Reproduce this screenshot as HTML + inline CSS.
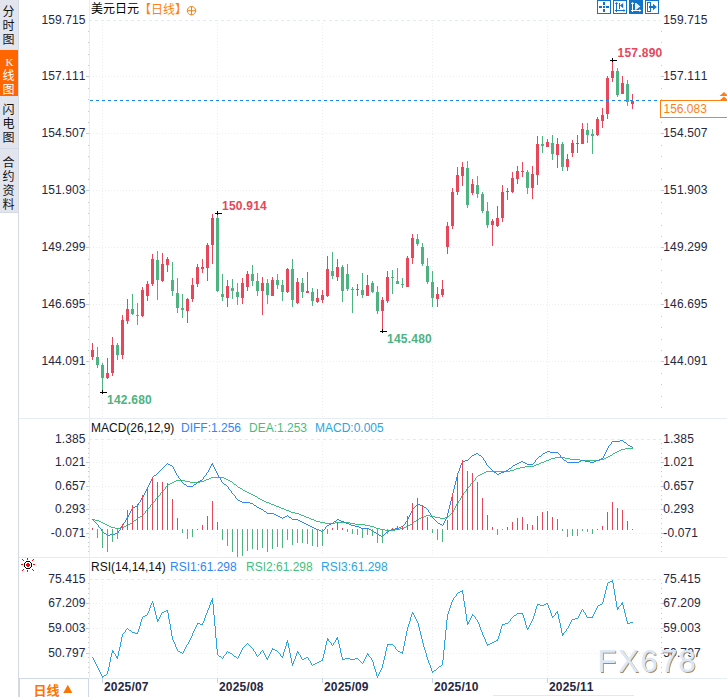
<!DOCTYPE html>
<html><head><meta charset="utf-8"><title>USDJPY</title>
<style>html,body{margin:0;padding:0;background:#fff;overflow:hidden}body{width:727px;height:697px;font-family:"Liberation Sans",sans-serif}</style>
</head><body>
<svg width="727" height="697" viewBox="0 0 727 697" style="display:block;font-family:'Liberation Sans',sans-serif;font-kerning:none">
<defs><filter id="wb" x="-5%" y="-10%" width="110%" height="130%"><feGaussianBlur stdDeviation="0.45"/></filter></defs>
<rect width="727" height="697" fill="#fff"/>
<g shape-rendering="crispEdges">
<rect x="0" y="0" width="18" height="212" fill="#e3e5ee"/>
<rect x="0" y="50" width="18" height="46" fill="#ff6600"/>
<rect x="0" y="148" width="18" height="1" fill="#d3dbe6"/>
<rect x="0" y="49" width="18" height="1" fill="#dde1ea"/>
<rect x="0" y="96" width="18" height="1" fill="#dde1ea"/>
<rect x="0" y="212" width="18" height="1" fill="#d5d9e4"/>
<rect x="18" y="0" width="1" height="697" fill="#d3d9e6"/>
<rect x="19" y="418" width="708" height="1" fill="#e6ecf4"/>
<rect x="19" y="557" width="708" height="1" fill="#e6ecf4"/>
<rect x="19" y="678" width="708" height="1" fill="#e6ecf4"/>
<rect x="89" y="0" width="1" height="678" fill="#e8edf4"/>
<rect x="19" y="678" width="70" height="19" fill="#fff"/>
<rect x="19" y="678" width="70" height="1" fill="#cfd8e8"/>
<rect x="19" y="678" width="1" height="19" fill="#cfd8e8"/>
<rect x="88" y="678" width="1" height="19" fill="#cfd8e8"/>
</g>
<line x1="89" y1="20.5" x2="661" y2="20.5" stroke="#e4eaf1" stroke-width="1" stroke-dasharray="3 3" shape-rendering="crispEdges"/>
<line x1="90" y1="76.5" x2="661" y2="76.5" stroke="#eaeef3" stroke-width="1" stroke-dasharray="1 2" shape-rendering="crispEdges"/>
<line x1="90" y1="133.5" x2="661" y2="133.5" stroke="#eaeef3" stroke-width="1" stroke-dasharray="1 2" shape-rendering="crispEdges"/>
<line x1="90" y1="190.5" x2="661" y2="190.5" stroke="#eaeef3" stroke-width="1" stroke-dasharray="1 2" shape-rendering="crispEdges"/>
<line x1="90" y1="247.5" x2="661" y2="247.5" stroke="#eaeef3" stroke-width="1" stroke-dasharray="1 2" shape-rendering="crispEdges"/>
<line x1="90" y1="304.5" x2="661" y2="304.5" stroke="#eaeef3" stroke-width="1" stroke-dasharray="1 2" shape-rendering="crispEdges"/>
<line x1="90" y1="361.5" x2="661" y2="361.5" stroke="#eaeef3" stroke-width="1" stroke-dasharray="1 2" shape-rendering="crispEdges"/>
<line x1="102.5" y1="23" x2="102.5" y2="417" stroke="#eaeef3" stroke-width="1" stroke-dasharray="1 2" shape-rendering="crispEdges"/>
<line x1="102.5" y1="442" x2="102.5" y2="556" stroke="#eaeef3" stroke-width="1" stroke-dasharray="1 2" shape-rendering="crispEdges"/>
<line x1="102.5" y1="582" x2="102.5" y2="677" stroke="#eaeef3" stroke-width="1" stroke-dasharray="1 2" shape-rendering="crispEdges"/>
<line x1="217.5" y1="23" x2="217.5" y2="417" stroke="#eaeef3" stroke-width="1" stroke-dasharray="1 2" shape-rendering="crispEdges"/>
<line x1="217.5" y1="442" x2="217.5" y2="556" stroke="#eaeef3" stroke-width="1" stroke-dasharray="1 2" shape-rendering="crispEdges"/>
<line x1="217.5" y1="582" x2="217.5" y2="677" stroke="#eaeef3" stroke-width="1" stroke-dasharray="1 2" shape-rendering="crispEdges"/>
<line x1="322.5" y1="23" x2="322.5" y2="417" stroke="#eaeef3" stroke-width="1" stroke-dasharray="1 2" shape-rendering="crispEdges"/>
<line x1="322.5" y1="442" x2="322.5" y2="556" stroke="#eaeef3" stroke-width="1" stroke-dasharray="1 2" shape-rendering="crispEdges"/>
<line x1="322.5" y1="582" x2="322.5" y2="677" stroke="#eaeef3" stroke-width="1" stroke-dasharray="1 2" shape-rendering="crispEdges"/>
<line x1="432.5" y1="23" x2="432.5" y2="417" stroke="#eaeef3" stroke-width="1" stroke-dasharray="1 2" shape-rendering="crispEdges"/>
<line x1="432.5" y1="442" x2="432.5" y2="556" stroke="#eaeef3" stroke-width="1" stroke-dasharray="1 2" shape-rendering="crispEdges"/>
<line x1="432.5" y1="582" x2="432.5" y2="677" stroke="#eaeef3" stroke-width="1" stroke-dasharray="1 2" shape-rendering="crispEdges"/>
<line x1="547.5" y1="23" x2="547.5" y2="417" stroke="#eaeef3" stroke-width="1" stroke-dasharray="1 2" shape-rendering="crispEdges"/>
<line x1="547.5" y1="442" x2="547.5" y2="556" stroke="#eaeef3" stroke-width="1" stroke-dasharray="1 2" shape-rendering="crispEdges"/>
<line x1="547.5" y1="582" x2="547.5" y2="677" stroke="#eaeef3" stroke-width="1" stroke-dasharray="1 2" shape-rendering="crispEdges"/>
<g shape-rendering="crispEdges">
<rect x="86" y="76" width="3" height="1" fill="#c2c9d5"/>
<rect x="661" y="76" width="3" height="1" fill="#c2c9d5"/>
<rect x="86" y="133" width="3" height="1" fill="#c2c9d5"/>
<rect x="661" y="133" width="3" height="1" fill="#c2c9d5"/>
<rect x="86" y="190" width="3" height="1" fill="#c2c9d5"/>
<rect x="661" y="190" width="3" height="1" fill="#c2c9d5"/>
<rect x="86" y="247" width="3" height="1" fill="#c2c9d5"/>
<rect x="661" y="247" width="3" height="1" fill="#c2c9d5"/>
<rect x="86" y="304" width="3" height="1" fill="#c2c9d5"/>
<rect x="661" y="304" width="3" height="1" fill="#c2c9d5"/>
<rect x="86" y="361" width="3" height="1" fill="#c2c9d5"/>
<rect x="661" y="361" width="3" height="1" fill="#c2c9d5"/>
<rect x="88" y="31" width="1" height="1" fill="#c2c9d5"/>
<rect x="661" y="31" width="1" height="1" fill="#c2c9d5"/>
<rect x="88" y="42" width="1" height="1" fill="#c2c9d5"/>
<rect x="661" y="42" width="1" height="1" fill="#c2c9d5"/>
<rect x="88" y="54" width="1" height="1" fill="#c2c9d5"/>
<rect x="661" y="54" width="1" height="1" fill="#c2c9d5"/>
<rect x="88" y="65" width="1" height="1" fill="#c2c9d5"/>
<rect x="661" y="65" width="1" height="1" fill="#c2c9d5"/>
<rect x="88" y="88" width="1" height="1" fill="#c2c9d5"/>
<rect x="661" y="88" width="1" height="1" fill="#c2c9d5"/>
<rect x="88" y="99" width="1" height="1" fill="#c2c9d5"/>
<rect x="661" y="99" width="1" height="1" fill="#c2c9d5"/>
<rect x="88" y="111" width="1" height="1" fill="#c2c9d5"/>
<rect x="661" y="111" width="1" height="1" fill="#c2c9d5"/>
<rect x="88" y="122" width="1" height="1" fill="#c2c9d5"/>
<rect x="661" y="122" width="1" height="1" fill="#c2c9d5"/>
<rect x="88" y="145" width="1" height="1" fill="#c2c9d5"/>
<rect x="661" y="145" width="1" height="1" fill="#c2c9d5"/>
<rect x="88" y="156" width="1" height="1" fill="#c2c9d5"/>
<rect x="661" y="156" width="1" height="1" fill="#c2c9d5"/>
<rect x="88" y="168" width="1" height="1" fill="#c2c9d5"/>
<rect x="661" y="168" width="1" height="1" fill="#c2c9d5"/>
<rect x="88" y="179" width="1" height="1" fill="#c2c9d5"/>
<rect x="661" y="179" width="1" height="1" fill="#c2c9d5"/>
<rect x="88" y="202" width="1" height="1" fill="#c2c9d5"/>
<rect x="661" y="202" width="1" height="1" fill="#c2c9d5"/>
<rect x="88" y="213" width="1" height="1" fill="#c2c9d5"/>
<rect x="661" y="213" width="1" height="1" fill="#c2c9d5"/>
<rect x="88" y="225" width="1" height="1" fill="#c2c9d5"/>
<rect x="661" y="225" width="1" height="1" fill="#c2c9d5"/>
<rect x="88" y="236" width="1" height="1" fill="#c2c9d5"/>
<rect x="661" y="236" width="1" height="1" fill="#c2c9d5"/>
<rect x="88" y="259" width="1" height="1" fill="#c2c9d5"/>
<rect x="661" y="259" width="1" height="1" fill="#c2c9d5"/>
<rect x="88" y="270" width="1" height="1" fill="#c2c9d5"/>
<rect x="661" y="270" width="1" height="1" fill="#c2c9d5"/>
<rect x="88" y="282" width="1" height="1" fill="#c2c9d5"/>
<rect x="661" y="282" width="1" height="1" fill="#c2c9d5"/>
<rect x="88" y="293" width="1" height="1" fill="#c2c9d5"/>
<rect x="661" y="293" width="1" height="1" fill="#c2c9d5"/>
<rect x="88" y="316" width="1" height="1" fill="#c2c9d5"/>
<rect x="661" y="316" width="1" height="1" fill="#c2c9d5"/>
<rect x="88" y="327" width="1" height="1" fill="#c2c9d5"/>
<rect x="661" y="327" width="1" height="1" fill="#c2c9d5"/>
<rect x="88" y="339" width="1" height="1" fill="#c2c9d5"/>
<rect x="661" y="339" width="1" height="1" fill="#c2c9d5"/>
<rect x="88" y="350" width="1" height="1" fill="#c2c9d5"/>
<rect x="661" y="350" width="1" height="1" fill="#c2c9d5"/>
<rect x="88" y="373" width="1" height="1" fill="#c2c9d5"/>
<rect x="661" y="373" width="1" height="1" fill="#c2c9d5"/>
<rect x="88" y="384" width="1" height="1" fill="#c2c9d5"/>
<rect x="661" y="384" width="1" height="1" fill="#c2c9d5"/>
<rect x="88" y="396" width="1" height="1" fill="#c2c9d5"/>
<rect x="661" y="396" width="1" height="1" fill="#c2c9d5"/>
<rect x="88" y="407" width="1" height="1" fill="#c2c9d5"/>
<rect x="661" y="407" width="1" height="1" fill="#c2c9d5"/>
</g>
<g font-size="12" fill="#252842" letter-spacing="0.12">
<text x="85.6" y="24" text-anchor="end">159.715</text>
<text x="663.3" y="24">159.715</text>
<text x="85.6" y="80" text-anchor="end">157.111</text>
<text x="663.3" y="80">157.111</text>
<text x="85.6" y="137" text-anchor="end">154.507</text>
<text x="663.3" y="137">154.507</text>
<text x="85.6" y="194" text-anchor="end">151.903</text>
<text x="663.3" y="194">151.903</text>
<text x="85.6" y="251" text-anchor="end">149.299</text>
<text x="663.3" y="251">149.299</text>
<text x="85.6" y="308" text-anchor="end">146.695</text>
<text x="663.3" y="308">146.695</text>
<text x="85.6" y="365" text-anchor="end">144.091</text>
<text x="663.3" y="365">144.091</text>
</g>
<line x1="89" y1="439.5" x2="661" y2="439.5" stroke="#e4eaf1" stroke-width="1" stroke-dasharray="3 3" shape-rendering="crispEdges"/>
<line x1="90" y1="462.5" x2="661" y2="462.5" stroke="#eaeef3" stroke-width="1" stroke-dasharray="1 2" shape-rendering="crispEdges"/>
<line x1="90" y1="486.5" x2="661" y2="486.5" stroke="#eaeef3" stroke-width="1" stroke-dasharray="1 2" shape-rendering="crispEdges"/>
<line x1="90" y1="509.5" x2="661" y2="509.5" stroke="#eaeef3" stroke-width="1" stroke-dasharray="1 2" shape-rendering="crispEdges"/>
<line x1="90" y1="533.5" x2="661" y2="533.5" stroke="#eaeef3" stroke-width="1" stroke-dasharray="1 2" shape-rendering="crispEdges"/>
<g shape-rendering="crispEdges">
<rect x="86" y="462" width="3" height="1" fill="#c2c9d5"/>
<rect x="661" y="462" width="3" height="1" fill="#c2c9d5"/>
<rect x="86" y="486" width="3" height="1" fill="#c2c9d5"/>
<rect x="661" y="486" width="3" height="1" fill="#c2c9d5"/>
<rect x="86" y="509" width="3" height="1" fill="#c2c9d5"/>
<rect x="661" y="509" width="3" height="1" fill="#c2c9d5"/>
<rect x="86" y="533" width="3" height="1" fill="#c2c9d5"/>
<rect x="661" y="533" width="3" height="1" fill="#c2c9d5"/>
<rect x="88" y="443" width="1" height="1" fill="#c2c9d5"/>
<rect x="661" y="443" width="1" height="1" fill="#c2c9d5"/>
<rect x="88" y="448" width="1" height="1" fill="#c2c9d5"/>
<rect x="661" y="448" width="1" height="1" fill="#c2c9d5"/>
<rect x="88" y="453" width="1" height="1" fill="#c2c9d5"/>
<rect x="661" y="453" width="1" height="1" fill="#c2c9d5"/>
<rect x="88" y="457" width="1" height="1" fill="#c2c9d5"/>
<rect x="661" y="457" width="1" height="1" fill="#c2c9d5"/>
<rect x="88" y="467" width="1" height="1" fill="#c2c9d5"/>
<rect x="661" y="467" width="1" height="1" fill="#c2c9d5"/>
<rect x="88" y="471" width="1" height="1" fill="#c2c9d5"/>
<rect x="661" y="471" width="1" height="1" fill="#c2c9d5"/>
<rect x="88" y="476" width="1" height="1" fill="#c2c9d5"/>
<rect x="661" y="476" width="1" height="1" fill="#c2c9d5"/>
<rect x="88" y="481" width="1" height="1" fill="#c2c9d5"/>
<rect x="661" y="481" width="1" height="1" fill="#c2c9d5"/>
<rect x="88" y="490" width="1" height="1" fill="#c2c9d5"/>
<rect x="661" y="490" width="1" height="1" fill="#c2c9d5"/>
<rect x="88" y="495" width="1" height="1" fill="#c2c9d5"/>
<rect x="661" y="495" width="1" height="1" fill="#c2c9d5"/>
<rect x="88" y="499" width="1" height="1" fill="#c2c9d5"/>
<rect x="661" y="499" width="1" height="1" fill="#c2c9d5"/>
<rect x="88" y="504" width="1" height="1" fill="#c2c9d5"/>
<rect x="661" y="504" width="1" height="1" fill="#c2c9d5"/>
<rect x="88" y="514" width="1" height="1" fill="#c2c9d5"/>
<rect x="661" y="514" width="1" height="1" fill="#c2c9d5"/>
<rect x="88" y="518" width="1" height="1" fill="#c2c9d5"/>
<rect x="661" y="518" width="1" height="1" fill="#c2c9d5"/>
<rect x="88" y="523" width="1" height="1" fill="#c2c9d5"/>
<rect x="661" y="523" width="1" height="1" fill="#c2c9d5"/>
<rect x="88" y="528" width="1" height="1" fill="#c2c9d5"/>
<rect x="661" y="528" width="1" height="1" fill="#c2c9d5"/>
<rect x="88" y="537" width="1" height="1" fill="#c2c9d5"/>
<rect x="661" y="537" width="1" height="1" fill="#c2c9d5"/>
<rect x="88" y="542" width="1" height="1" fill="#c2c9d5"/>
<rect x="661" y="542" width="1" height="1" fill="#c2c9d5"/>
<rect x="88" y="546" width="1" height="1" fill="#c2c9d5"/>
<rect x="661" y="546" width="1" height="1" fill="#c2c9d5"/>
<rect x="88" y="551" width="1" height="1" fill="#c2c9d5"/>
<rect x="661" y="551" width="1" height="1" fill="#c2c9d5"/>
</g>
<g font-size="12" fill="#252842" letter-spacing="0.12">
<text x="85.6" y="443" text-anchor="end">1.385</text>
<text x="663.3" y="443">1.385</text>
<text x="85.6" y="466" text-anchor="end">1.021</text>
<text x="663.3" y="466">1.021</text>
<text x="85.6" y="490" text-anchor="end">0.657</text>
<text x="663.3" y="490">0.657</text>
<text x="85.6" y="513" text-anchor="end">0.293</text>
<text x="663.3" y="513">0.293</text>
<text x="85.6" y="537" text-anchor="end">-0.071</text>
<text x="663.3" y="537">-0.071</text>
</g>
<line x1="89" y1="579.5" x2="661" y2="579.5" stroke="#e4eaf1" stroke-width="1" stroke-dasharray="3 3" shape-rendering="crispEdges"/>
<line x1="90" y1="603.5" x2="661" y2="603.5" stroke="#eaeef3" stroke-width="1" stroke-dasharray="1 2" shape-rendering="crispEdges"/>
<line x1="90" y1="628.5" x2="661" y2="628.5" stroke="#eaeef3" stroke-width="1" stroke-dasharray="1 2" shape-rendering="crispEdges"/>
<line x1="90" y1="653.5" x2="661" y2="653.5" stroke="#eaeef3" stroke-width="1" stroke-dasharray="1 2" shape-rendering="crispEdges"/>
<g shape-rendering="crispEdges">
<rect x="86" y="603" width="3" height="1" fill="#c2c9d5"/>
<rect x="661" y="603" width="3" height="1" fill="#c2c9d5"/>
<rect x="86" y="628" width="3" height="1" fill="#c2c9d5"/>
<rect x="661" y="628" width="3" height="1" fill="#c2c9d5"/>
<rect x="86" y="653" width="3" height="1" fill="#c2c9d5"/>
<rect x="661" y="653" width="3" height="1" fill="#c2c9d5"/>
<rect x="88" y="583" width="1" height="1" fill="#c2c9d5"/>
<rect x="661" y="583" width="1" height="1" fill="#c2c9d5"/>
<rect x="88" y="588" width="1" height="1" fill="#c2c9d5"/>
<rect x="661" y="588" width="1" height="1" fill="#c2c9d5"/>
<rect x="88" y="593" width="1" height="1" fill="#c2c9d5"/>
<rect x="661" y="593" width="1" height="1" fill="#c2c9d5"/>
<rect x="88" y="598" width="1" height="1" fill="#c2c9d5"/>
<rect x="661" y="598" width="1" height="1" fill="#c2c9d5"/>
<rect x="88" y="608" width="1" height="1" fill="#c2c9d5"/>
<rect x="661" y="608" width="1" height="1" fill="#c2c9d5"/>
<rect x="88" y="613" width="1" height="1" fill="#c2c9d5"/>
<rect x="661" y="613" width="1" height="1" fill="#c2c9d5"/>
<rect x="88" y="618" width="1" height="1" fill="#c2c9d5"/>
<rect x="661" y="618" width="1" height="1" fill="#c2c9d5"/>
<rect x="88" y="623" width="1" height="1" fill="#c2c9d5"/>
<rect x="661" y="623" width="1" height="1" fill="#c2c9d5"/>
<rect x="88" y="632" width="1" height="1" fill="#c2c9d5"/>
<rect x="661" y="632" width="1" height="1" fill="#c2c9d5"/>
<rect x="88" y="637" width="1" height="1" fill="#c2c9d5"/>
<rect x="661" y="637" width="1" height="1" fill="#c2c9d5"/>
<rect x="88" y="642" width="1" height="1" fill="#c2c9d5"/>
<rect x="661" y="642" width="1" height="1" fill="#c2c9d5"/>
<rect x="88" y="647" width="1" height="1" fill="#c2c9d5"/>
<rect x="661" y="647" width="1" height="1" fill="#c2c9d5"/>
<rect x="88" y="657" width="1" height="1" fill="#c2c9d5"/>
<rect x="661" y="657" width="1" height="1" fill="#c2c9d5"/>
<rect x="88" y="662" width="1" height="1" fill="#c2c9d5"/>
<rect x="661" y="662" width="1" height="1" fill="#c2c9d5"/>
<rect x="88" y="667" width="1" height="1" fill="#c2c9d5"/>
<rect x="661" y="667" width="1" height="1" fill="#c2c9d5"/>
<rect x="88" y="672" width="1" height="1" fill="#c2c9d5"/>
<rect x="661" y="672" width="1" height="1" fill="#c2c9d5"/>
</g>
<g font-size="12" fill="#252842" letter-spacing="0.12">
<text x="85.6" y="583" text-anchor="end">75.415</text>
<text x="663.3" y="583">75.415</text>
<text x="85.6" y="607" text-anchor="end">67.209</text>
<text x="663.3" y="607">67.209</text>
<text x="85.6" y="632" text-anchor="end">59.003</text>
<text x="663.3" y="632">59.003</text>
<text x="85.6" y="657" text-anchor="end">50.797</text>
<text x="663.3" y="657">50.797</text>
</g>
<g shape-rendering="crispEdges">
<rect x="102" y="678" width="1" height="5" fill="#c9d2e0"/>
<rect x="217" y="678" width="1" height="5" fill="#c9d2e0"/>
<rect x="322" y="678" width="1" height="5" fill="#c9d2e0"/>
<rect x="432" y="678" width="1" height="5" fill="#c9d2e0"/>
<rect x="547" y="678" width="1" height="5" fill="#c9d2e0"/>
</g>
<g font-size="12" font-weight="bold" fill="#252842" letter-spacing="0.18">
<text x="104" y="691">2025/07</text>
<text x="219" y="691">2025/08</text>
<text x="324" y="691">2025/09</text>
<text x="434" y="691">2025/10</text>
<text x="549" y="691">2025/11</text>
</g>
<rect x="493" y="695" width="141" height="1" fill="#e3e8f0" shape-rendering="crispEdges"/>
<g shape-rendering="crispEdges">
<rect x="92" y="343" width="1" height="17" fill="#e8465a"/>
<rect x="91" y="350" width="3" height="7" fill="#e8465a"/>
<rect x="97" y="347" width="1" height="21" fill="#4db381"/>
<rect x="96" y="357" width="3" height="8" fill="#4db381"/>
<rect x="102" y="363" width="1" height="29" fill="#4db381"/>
<rect x="101" y="365" width="3" height="13" fill="#4db381"/>
<rect x="107" y="358" width="1" height="21" fill="#e8465a"/>
<rect x="106" y="373" width="3" height="5" fill="#e8465a"/>
<rect x="112" y="337" width="1" height="39" fill="#e8465a"/>
<rect x="111" y="345" width="3" height="28" fill="#e8465a"/>
<rect x="117" y="343" width="1" height="17" fill="#4db381"/>
<rect x="116" y="345" width="3" height="10" fill="#4db381"/>
<rect x="122" y="315" width="1" height="44" fill="#e8465a"/>
<rect x="121" y="320" width="3" height="35" fill="#e8465a"/>
<rect x="127" y="299" width="1" height="25" fill="#e8465a"/>
<rect x="126" y="309" width="3" height="12" fill="#e8465a"/>
<rect x="132" y="294" width="1" height="21" fill="#4db381"/>
<rect x="131" y="309" width="3" height="5" fill="#4db381"/>
<rect x="137" y="303" width="1" height="22" fill="#4db381"/>
<rect x="136" y="315" width="3" height="1" fill="#4db381"/>
<rect x="142" y="287" width="1" height="30" fill="#e8465a"/>
<rect x="141" y="290" width="3" height="26" fill="#e8465a"/>
<rect x="147" y="281" width="1" height="20" fill="#e8465a"/>
<rect x="146" y="284" width="3" height="12" fill="#e8465a"/>
<rect x="152" y="254" width="1" height="32" fill="#e8465a"/>
<rect x="151" y="259" width="3" height="25" fill="#e8465a"/>
<rect x="157" y="251" width="1" height="49" fill="#4db381"/>
<rect x="156" y="260" width="3" height="20" fill="#4db381"/>
<rect x="162" y="253" width="1" height="29" fill="#e8465a"/>
<rect x="161" y="264" width="3" height="17" fill="#e8465a"/>
<rect x="167" y="257" width="1" height="15" fill="#e8465a"/>
<rect x="166" y="259" width="3" height="6" fill="#e8465a"/>
<rect x="172" y="262" width="1" height="34" fill="#4db381"/>
<rect x="171" y="280" width="3" height="11" fill="#4db381"/>
<rect x="177" y="278" width="1" height="35" fill="#4db381"/>
<rect x="176" y="293" width="3" height="15" fill="#4db381"/>
<rect x="182" y="294" width="1" height="24" fill="#4db381"/>
<rect x="181" y="308" width="3" height="2" fill="#4db381"/>
<rect x="187" y="298" width="1" height="25" fill="#e8465a"/>
<rect x="186" y="299" width="3" height="12" fill="#e8465a"/>
<rect x="192" y="278" width="1" height="24" fill="#e8465a"/>
<rect x="191" y="285" width="3" height="14" fill="#e8465a"/>
<rect x="197" y="264" width="1" height="23" fill="#e8465a"/>
<rect x="196" y="267" width="3" height="17" fill="#e8465a"/>
<rect x="202" y="259" width="1" height="14" fill="#e8465a"/>
<rect x="201" y="267" width="3" height="2" fill="#e8465a"/>
<rect x="207" y="243" width="1" height="38" fill="#e8465a"/>
<rect x="206" y="245" width="3" height="23" fill="#e8465a"/>
<rect x="212" y="214" width="1" height="50" fill="#e8465a"/>
<rect x="211" y="218" width="3" height="27" fill="#e8465a"/>
<rect x="217" y="214" width="1" height="78" fill="#4db381"/>
<rect x="216" y="218" width="3" height="73" fill="#4db381"/>
<rect x="222" y="274" width="1" height="27" fill="#4db381"/>
<rect x="221" y="294" width="3" height="3" fill="#4db381"/>
<rect x="227" y="280" width="1" height="27" fill="#e8465a"/>
<rect x="226" y="286" width="3" height="12" fill="#e8465a"/>
<rect x="232" y="279" width="1" height="20" fill="#4db381"/>
<rect x="231" y="288" width="3" height="3" fill="#4db381"/>
<rect x="237" y="283" width="1" height="22" fill="#4db381"/>
<rect x="236" y="292" width="3" height="5" fill="#4db381"/>
<rect x="242" y="278" width="1" height="26" fill="#e8465a"/>
<rect x="241" y="283" width="3" height="15" fill="#e8465a"/>
<rect x="247" y="271" width="1" height="20" fill="#e8465a"/>
<rect x="246" y="274" width="3" height="13" fill="#e8465a"/>
<rect x="252" y="265" width="1" height="21" fill="#4db381"/>
<rect x="251" y="274" width="3" height="7" fill="#4db381"/>
<rect x="257" y="273" width="1" height="23" fill="#4db381"/>
<rect x="256" y="281" width="3" height="10" fill="#4db381"/>
<rect x="262" y="277" width="1" height="38" fill="#e8465a"/>
<rect x="261" y="283" width="3" height="8" fill="#e8465a"/>
<rect x="267" y="279" width="1" height="25" fill="#4db381"/>
<rect x="266" y="283" width="3" height="12" fill="#4db381"/>
<rect x="272" y="277" width="1" height="19" fill="#e8465a"/>
<rect x="271" y="280" width="3" height="16" fill="#e8465a"/>
<rect x="277" y="274" width="1" height="15" fill="#4db381"/>
<rect x="276" y="280" width="3" height="5" fill="#4db381"/>
<rect x="282" y="280" width="1" height="21" fill="#4db381"/>
<rect x="281" y="285" width="3" height="7" fill="#4db381"/>
<rect x="287" y="268" width="1" height="25" fill="#e8465a"/>
<rect x="286" y="269" width="3" height="23" fill="#e8465a"/>
<rect x="292" y="259" width="1" height="48" fill="#4db381"/>
<rect x="291" y="269" width="3" height="31" fill="#4db381"/>
<rect x="297" y="278" width="1" height="26" fill="#e8465a"/>
<rect x="296" y="282" width="3" height="21" fill="#e8465a"/>
<rect x="302" y="278" width="1" height="20" fill="#4db381"/>
<rect x="301" y="283" width="3" height="9" fill="#4db381"/>
<rect x="307" y="272" width="1" height="21" fill="#e8465a"/>
<rect x="306" y="291" width="3" height="2" fill="#e8465a"/>
<rect x="312" y="288" width="1" height="18" fill="#4db381"/>
<rect x="311" y="292" width="3" height="9" fill="#4db381"/>
<rect x="317" y="289" width="1" height="14" fill="#e8465a"/>
<rect x="316" y="298" width="3" height="4" fill="#e8465a"/>
<rect x="322" y="290" width="1" height="13" fill="#e8465a"/>
<rect x="321" y="295" width="3" height="5" fill="#e8465a"/>
<rect x="327" y="256" width="1" height="41" fill="#e8465a"/>
<rect x="326" y="269" width="3" height="27" fill="#e8465a"/>
<rect x="332" y="252" width="1" height="27" fill="#4db381"/>
<rect x="331" y="271" width="3" height="5" fill="#4db381"/>
<rect x="337" y="259" width="1" height="22" fill="#e8465a"/>
<rect x="336" y="267" width="3" height="10" fill="#e8465a"/>
<rect x="342" y="265" width="1" height="37" fill="#4db381"/>
<rect x="341" y="267" width="3" height="24" fill="#4db381"/>
<rect x="347" y="264" width="1" height="27" fill="#4db381"/>
<rect x="346" y="274" width="3" height="15" fill="#4db381"/>
<rect x="352" y="287" width="1" height="26" fill="#4db381"/>
<rect x="351" y="289" width="3" height="1" fill="#4db381"/>
<rect x="357" y="284" width="1" height="12" fill="#e8465a"/>
<rect x="356" y="289" width="3" height="1" fill="#e8465a"/>
<rect x="362" y="273" width="1" height="25" fill="#4db381"/>
<rect x="361" y="290" width="3" height="5" fill="#4db381"/>
<rect x="367" y="275" width="1" height="21" fill="#e8465a"/>
<rect x="366" y="285" width="3" height="11" fill="#e8465a"/>
<rect x="372" y="281" width="1" height="12" fill="#4db381"/>
<rect x="371" y="283" width="3" height="9" fill="#4db381"/>
<rect x="377" y="286" width="1" height="28" fill="#4db381"/>
<rect x="376" y="292" width="3" height="19" fill="#4db381"/>
<rect x="382" y="297" width="1" height="34" fill="#e8465a"/>
<rect x="381" y="300" width="3" height="11" fill="#e8465a"/>
<rect x="387" y="271" width="1" height="32" fill="#e8465a"/>
<rect x="386" y="277" width="3" height="24" fill="#e8465a"/>
<rect x="392" y="270" width="1" height="24" fill="#4db381"/>
<rect x="391" y="277" width="3" height="1" fill="#4db381"/>
<rect x="397" y="268" width="1" height="16" fill="#4db381"/>
<rect x="396" y="281" width="3" height="3" fill="#4db381"/>
<rect x="402" y="278" width="1" height="10" fill="#4db381"/>
<rect x="401" y="284" width="3" height="1" fill="#4db381"/>
<rect x="407" y="256" width="1" height="31" fill="#e8465a"/>
<rect x="406" y="258" width="3" height="29" fill="#e8465a"/>
<rect x="412" y="234" width="1" height="30" fill="#e8465a"/>
<rect x="411" y="238" width="3" height="20" fill="#e8465a"/>
<rect x="417" y="234" width="1" height="12" fill="#4db381"/>
<rect x="416" y="239" width="3" height="5" fill="#4db381"/>
<rect x="422" y="243" width="1" height="23" fill="#4db381"/>
<rect x="421" y="247" width="3" height="17" fill="#4db381"/>
<rect x="427" y="258" width="1" height="26" fill="#4db381"/>
<rect x="426" y="266" width="3" height="16" fill="#4db381"/>
<rect x="432" y="271" width="1" height="36" fill="#4db381"/>
<rect x="431" y="282" width="3" height="16" fill="#4db381"/>
<rect x="437" y="287" width="1" height="20" fill="#e8465a"/>
<rect x="436" y="294" width="3" height="5" fill="#e8465a"/>
<rect x="442" y="280" width="1" height="17" fill="#e8465a"/>
<rect x="441" y="289" width="3" height="6" fill="#e8465a"/>
<rect x="447" y="222" width="1" height="32" fill="#e8465a"/>
<rect x="446" y="226" width="3" height="21" fill="#e8465a"/>
<rect x="452" y="188" width="1" height="41" fill="#e8465a"/>
<rect x="451" y="192" width="3" height="34" fill="#e8465a"/>
<rect x="457" y="167" width="1" height="28" fill="#e8465a"/>
<rect x="456" y="175" width="3" height="17" fill="#e8465a"/>
<rect x="462" y="162" width="1" height="24" fill="#e8465a"/>
<rect x="461" y="167" width="3" height="9" fill="#e8465a"/>
<rect x="467" y="161" width="1" height="47" fill="#4db381"/>
<rect x="466" y="168" width="3" height="37" fill="#4db381"/>
<rect x="472" y="179" width="1" height="16" fill="#e8465a"/>
<rect x="471" y="184" width="3" height="9" fill="#e8465a"/>
<rect x="477" y="176" width="1" height="22" fill="#4db381"/>
<rect x="476" y="185" width="3" height="9" fill="#4db381"/>
<rect x="482" y="192" width="1" height="21" fill="#4db381"/>
<rect x="481" y="194" width="3" height="17" fill="#4db381"/>
<rect x="487" y="202" width="1" height="26" fill="#4db381"/>
<rect x="486" y="211" width="3" height="14" fill="#4db381"/>
<rect x="492" y="219" width="1" height="27" fill="#e8465a"/>
<rect x="491" y="221" width="3" height="4" fill="#e8465a"/>
<rect x="497" y="206" width="1" height="21" fill="#e8465a"/>
<rect x="496" y="218" width="3" height="8" fill="#e8465a"/>
<rect x="502" y="185" width="1" height="37" fill="#e8465a"/>
<rect x="501" y="192" width="3" height="26" fill="#e8465a"/>
<rect x="507" y="188" width="1" height="12" fill="#e8465a"/>
<rect x="506" y="191" width="3" height="1" fill="#e8465a"/>
<rect x="512" y="172" width="1" height="21" fill="#e8465a"/>
<rect x="511" y="178" width="3" height="14" fill="#e8465a"/>
<rect x="517" y="166" width="1" height="18" fill="#e8465a"/>
<rect x="516" y="171" width="3" height="8" fill="#e8465a"/>
<rect x="522" y="162" width="1" height="15" fill="#e8465a"/>
<rect x="521" y="171" width="3" height="1" fill="#e8465a"/>
<rect x="527" y="170" width="1" height="24" fill="#4db381"/>
<rect x="526" y="172" width="3" height="16" fill="#4db381"/>
<rect x="532" y="166" width="1" height="33" fill="#e8465a"/>
<rect x="531" y="174" width="3" height="14" fill="#e8465a"/>
<rect x="537" y="136" width="1" height="49" fill="#e8465a"/>
<rect x="536" y="144" width="3" height="31" fill="#e8465a"/>
<rect x="542" y="136" width="1" height="17" fill="#4db381"/>
<rect x="541" y="144" width="3" height="2" fill="#4db381"/>
<rect x="547" y="139" width="1" height="8" fill="#e8465a"/>
<rect x="546" y="142" width="3" height="5" fill="#e8465a"/>
<rect x="552" y="135" width="1" height="25" fill="#4db381"/>
<rect x="551" y="143" width="3" height="11" fill="#4db381"/>
<rect x="557" y="138" width="1" height="30" fill="#e8465a"/>
<rect x="556" y="144" width="3" height="11" fill="#e8465a"/>
<rect x="562" y="142" width="1" height="29" fill="#4db381"/>
<rect x="561" y="144" width="3" height="23" fill="#4db381"/>
<rect x="567" y="154" width="1" height="17" fill="#e8465a"/>
<rect x="566" y="159" width="3" height="8" fill="#e8465a"/>
<rect x="572" y="140" width="1" height="17" fill="#e8465a"/>
<rect x="571" y="143" width="3" height="10" fill="#e8465a"/>
<rect x="577" y="135" width="1" height="18" fill="#e8465a"/>
<rect x="576" y="143" width="3" height="1" fill="#e8465a"/>
<rect x="582" y="123" width="1" height="21" fill="#e8465a"/>
<rect x="581" y="129" width="3" height="15" fill="#e8465a"/>
<rect x="587" y="123" width="1" height="20" fill="#4db381"/>
<rect x="586" y="130" width="3" height="5" fill="#4db381"/>
<rect x="592" y="129" width="1" height="25" fill="#4db381"/>
<rect x="591" y="134" width="3" height="2" fill="#4db381"/>
<rect x="597" y="117" width="1" height="19" fill="#e8465a"/>
<rect x="596" y="119" width="3" height="16" fill="#e8465a"/>
<rect x="602" y="108" width="1" height="20" fill="#e8465a"/>
<rect x="601" y="115" width="3" height="6" fill="#e8465a"/>
<rect x="607" y="76" width="1" height="43" fill="#e8465a"/>
<rect x="606" y="78" width="3" height="36" fill="#e8465a"/>
<rect x="612" y="60" width="1" height="22" fill="#e8465a"/>
<rect x="611" y="71" width="3" height="7" fill="#e8465a"/>
<rect x="617" y="68" width="1" height="29" fill="#4db381"/>
<rect x="616" y="71" width="3" height="24" fill="#4db381"/>
<rect x="622" y="76" width="1" height="18" fill="#e8465a"/>
<rect x="621" y="83" width="3" height="11" fill="#e8465a"/>
<rect x="627" y="80" width="1" height="26" fill="#4db381"/>
<rect x="626" y="84" width="3" height="18" fill="#4db381"/>
<rect x="632" y="94" width="1" height="15" fill="#e8465a"/>
<rect x="631" y="101" width="3" height="3" fill="#e8465a"/>
</g>
<line x1="90" y1="100.5" x2="660" y2="100.5" stroke="#1a88f2" stroke-width="1" stroke-dasharray="3 3" shape-rendering="crispEdges"/>
<g shape-rendering="crispEdges" fill="#000"><rect x="610" y="60" width="7" height="1"/><rect x="612" y="58" width="1" height="4"/></g>
<g shape-rendering="crispEdges" fill="#000"><rect x="215" y="213" width="7" height="1"/><rect x="217" y="211" width="1" height="4"/></g>
<g shape-rendering="crispEdges" fill="#000"><rect x="380" y="331" width="7" height="1"/><rect x="382" y="329" width="1" height="4"/></g>
<g shape-rendering="crispEdges" fill="#000"><rect x="100" y="392" width="7" height="1"/><rect x="102" y="390" width="1" height="4"/></g>
<g font-size="12" font-weight="bold" letter-spacing="0.22">
<text x="617.5" y="57" fill="#e8465a">157.890</text>
<text x="222" y="210" fill="#e8465a">150.914</text>
<text x="387" y="343" fill="#4db381">145.480</text>
<text x="107" y="404" fill="#4db381">142.680</text>
</g>
<path d="M92 519h1v1h-1zM93 519h1v1h-1zM94 519h1v1h-1zM95 520h1v1h-1zM96 520h1v1h-1zM97 520h1v1h-1zM98 520h1v1h-1zM99 521h1v1h-1zM100 521h1v1h-1zM101 522h1v1h-1zM102 522h1v1h-1zM103 523h1v1h-1zM104 523h1v1h-1zM105 524h1v1h-1zM106 524h1v1h-1zM107 525h1v1h-1zM108 525h1v1h-1zM109 526h1v1h-1zM110 526h1v1h-1zM111 527h1v1h-1zM112 527h1v1h-1zM113 527h1v1h-1zM114 527h1v1h-1zM115 528h1v1h-1zM116 528h1v1h-1zM117 528h1v1h-1zM118 528h1v1h-1zM119 528h1v1h-1zM120 527h1v1h-1zM121 527h1v1h-1zM122 527h1v1h-1zM123 527h1v1h-1zM124 526h1v1h-1zM125 526h1v1h-1zM126 525h1v1h-1zM127 525h1v1h-1zM128 524h1v1h-1zM129 524h1v1h-1zM130 523h1v1h-1zM131 523h1v1h-1zM132 522h1v1h-1zM133 521h1v1h-1zM134 520h1v1h-1zM135 520h1v1h-1zM136 519h1v1h-1zM137 518h1v1h-1zM138 517h1v1h-1zM139 517h1v1h-1zM140 516h1v1h-1zM141 516h1v1h-1zM142 515h1v1h-1zM143 514h1v1h-1zM144 513h1v1h-1zM145 511h1v2h-1zM146 510h1v1h-1zM147 509h1v1h-1zM148 508h1v1h-1zM149 507h1v1h-1zM150 505h1v2h-1zM151 504h1v1h-1zM152 503h1v1h-1zM153 502h1v1h-1zM154 501h1v1h-1zM155 499h1v2h-1zM156 498h1v1h-1zM157 497h1v1h-1zM158 496h1v1h-1zM159 495h1v1h-1zM160 493h1v2h-1zM161 492h1v1h-1zM162 491h1v1h-1zM163 490h1v1h-1zM164 489h1v1h-1zM165 487h1v2h-1zM166 486h1v1h-1zM167 485h1v1h-1zM168 484h1v1h-1zM169 484h1v1h-1zM170 483h1v1h-1zM171 483h1v1h-1zM172 482h1v1h-1zM173 482h1v1h-1zM174 481h1v1h-1zM175 481h1v1h-1zM176 480h1v1h-1zM177 480h1v1h-1zM178 480h1v1h-1zM179 480h1v1h-1zM180 480h1v1h-1zM181 480h1v1h-1zM182 480h1v1h-1zM183 480h1v1h-1zM184 480h1v1h-1zM185 481h1v1h-1zM186 481h1v1h-1zM187 481h1v1h-1zM188 481h1v1h-1zM189 481h1v1h-1zM190 482h1v1h-1zM191 482h1v1h-1zM192 482h1v1h-1zM193 482h1v1h-1zM194 482h1v1h-1zM195 482h1v1h-1zM196 482h1v1h-1zM197 482h1v1h-1zM198 482h1v1h-1zM199 482h1v1h-1zM200 481h1v1h-1zM201 481h1v1h-1zM202 481h1v1h-1zM203 481h1v1h-1zM204 480h1v1h-1zM205 480h1v1h-1zM206 479h1v1h-1zM207 479h1v1h-1zM208 479h1v1h-1zM209 478h1v1h-1zM210 478h1v1h-1zM211 477h1v1h-1zM212 477h1v1h-1zM213 477h1v1h-1zM214 477h1v1h-1zM215 477h1v1h-1zM216 477h1v1h-1zM217 477h1v1h-1zM218 477h1v1h-1zM219 477h1v1h-1zM220 477h1v1h-1zM221 477h1v1h-1zM222 477h1v1h-1zM223 477h1v1h-1zM224 478h1v1h-1zM225 478h1v1h-1zM226 479h1v1h-1zM227 479h1v1h-1zM228 480h1v1h-1zM229 480h1v1h-1zM230 481h1v1h-1zM231 481h1v1h-1zM232 482h1v1h-1zM233 483h1v1h-1zM234 484h1v1h-1zM235 484h1v1h-1zM236 485h1v1h-1zM237 486h1v1h-1zM238 487h1v1h-1zM239 487h1v1h-1zM240 488h1v1h-1zM241 488h1v1h-1zM242 489h1v1h-1zM243 490h1v1h-1zM244 490h1v1h-1zM245 491h1v1h-1zM246 491h1v1h-1zM247 492h1v1h-1zM248 492h1v1h-1zM249 493h1v1h-1zM250 493h1v1h-1zM251 494h1v1h-1zM252 494h1v1h-1zM253 495h1v1h-1zM254 495h1v1h-1zM255 496h1v1h-1zM256 496h1v1h-1zM257 497h1v1h-1zM258 498h1v1h-1zM259 498h1v1h-1zM260 499h1v1h-1zM261 499h1v1h-1zM262 500h1v1h-1zM263 500h1v1h-1zM264 501h1v1h-1zM265 501h1v1h-1zM266 502h1v1h-1zM267 502h1v1h-1zM268 502h1v1h-1zM269 503h1v1h-1zM270 503h1v1h-1zM271 504h1v1h-1zM272 504h1v1h-1zM273 504h1v1h-1zM274 505h1v1h-1zM275 505h1v1h-1zM276 506h1v1h-1zM277 506h1v1h-1zM278 506h1v1h-1zM279 507h1v1h-1zM280 507h1v1h-1zM281 508h1v1h-1zM282 508h1v1h-1zM283 508h1v1h-1zM284 509h1v1h-1zM285 509h1v1h-1zM286 510h1v1h-1zM287 510h1v1h-1zM288 510h1v1h-1zM289 511h1v1h-1zM290 511h1v1h-1zM291 512h1v1h-1zM292 512h1v1h-1zM293 512h1v1h-1zM294 512h1v1h-1zM295 513h1v1h-1zM296 513h1v1h-1zM297 513h1v1h-1zM298 513h1v1h-1zM299 514h1v1h-1zM300 514h1v1h-1zM301 515h1v1h-1zM302 515h1v1h-1zM303 515h1v1h-1zM304 516h1v1h-1zM305 516h1v1h-1zM306 517h1v1h-1zM307 517h1v1h-1zM308 517h1v1h-1zM309 518h1v1h-1zM310 518h1v1h-1zM311 519h1v1h-1zM312 519h1v1h-1zM313 519h1v1h-1zM314 520h1v1h-1zM315 520h1v1h-1zM316 521h1v1h-1zM317 521h1v1h-1zM318 521h1v1h-1zM319 521h1v1h-1zM320 522h1v1h-1zM321 522h1v1h-1zM322 522h1v1h-1zM323 522h1v1h-1zM324 522h1v1h-1zM325 523h1v1h-1zM326 523h1v1h-1zM327 523h1v1h-1zM328 523h1v1h-1zM329 523h1v1h-1zM330 523h1v1h-1zM331 523h1v1h-1zM332 523h1v1h-1zM333 523h1v1h-1zM334 523h1v1h-1zM335 522h1v1h-1zM336 522h1v1h-1zM337 522h1v1h-1zM338 522h1v1h-1zM339 522h1v1h-1zM340 522h1v1h-1zM341 522h1v1h-1zM342 522h1v1h-1zM343 522h1v1h-1zM344 522h1v1h-1zM345 522h1v1h-1zM346 522h1v1h-1zM347 522h1v1h-1zM348 522h1v1h-1zM349 522h1v1h-1zM350 523h1v1h-1zM351 523h1v1h-1zM352 523h1v1h-1zM353 523h1v1h-1zM354 523h1v1h-1zM355 524h1v1h-1zM356 524h1v1h-1zM357 524h1v1h-1zM358 524h1v1h-1zM359 524h1v1h-1zM360 524h1v1h-1zM361 524h1v1h-1zM362 524h1v1h-1zM363 524h1v1h-1zM364 524h1v1h-1zM365 525h1v1h-1zM366 525h1v1h-1zM367 525h1v1h-1zM368 525h1v1h-1zM369 525h1v1h-1zM370 526h1v1h-1zM371 526h1v1h-1zM372 526h1v1h-1zM373 526h1v1h-1zM374 527h1v1h-1zM375 527h1v1h-1zM376 528h1v1h-1zM377 528h1v1h-1zM378 528h1v1h-1zM379 528h1v1h-1zM380 529h1v1h-1zM381 529h1v1h-1zM382 529h1v1h-1zM383 529h1v1h-1zM384 529h1v1h-1zM385 530h1v1h-1zM386 530h1v1h-1zM387 530h1v1h-1zM388 530h1v1h-1zM389 530h1v1h-1zM390 530h1v1h-1zM391 530h1v1h-1zM392 530h1v1h-1zM393 530h1v1h-1zM394 530h1v1h-1zM395 529h1v1h-1zM396 529h1v1h-1zM397 529h1v1h-1zM398 529h1v1h-1zM399 529h1v1h-1zM400 528h1v1h-1zM401 528h1v1h-1zM402 528h1v1h-1zM403 528h1v1h-1zM404 527h1v1h-1zM405 527h1v1h-1zM406 526h1v1h-1zM407 526h1v1h-1zM408 525h1v1h-1zM409 525h1v1h-1zM410 524h1v1h-1zM411 524h1v1h-1zM412 523h1v1h-1zM413 522h1v1h-1zM414 521h1v1h-1zM415 521h1v1h-1zM416 520h1v1h-1zM417 519h1v1h-1zM418 519h1v1h-1zM419 518h1v1h-1zM420 518h1v1h-1zM421 517h1v1h-1zM422 517h1v1h-1zM423 517h1v1h-1zM424 516h1v1h-1zM425 516h1v1h-1zM426 515h1v1h-1zM427 515h1v1h-1zM428 515h1v1h-1zM429 515h1v1h-1zM430 516h1v1h-1zM431 516h1v1h-1zM432 516h1v1h-1zM433 516h1v1h-1zM434 516h1v1h-1zM435 517h1v1h-1zM436 517h1v1h-1zM437 517h1v1h-1zM438 517h1v1h-1zM439 517h1v1h-1zM440 518h1v1h-1zM441 518h1v1h-1zM442 518h1v1h-1zM443 518h1v1h-1zM444 518h1v1h-1zM445 517h1v1h-1zM446 517h1v1h-1zM447 517h1v1h-1zM448 516h1v1h-1zM449 515h1v1h-1zM450 514h1v1h-1zM451 513h1v1h-1zM452 512h1v1h-1zM453 510h1v2h-1zM454 508h1v2h-1zM455 506h1v2h-1zM456 504h1v2h-1zM457 503h1v1h-1zM458 501h1v2h-1zM459 500h1v1h-1zM460 498h1v2h-1zM461 496h1v2h-1zM462 495h1v1h-1zM463 493h1v2h-1zM464 492h1v1h-1zM465 491h1v1h-1zM466 489h1v2h-1zM467 488h1v1h-1zM468 487h1v1h-1zM469 486h1v1h-1zM470 484h1v2h-1zM471 483h1v1h-1zM472 482h1v1h-1zM473 481h1v1h-1zM474 480h1v1h-1zM475 478h1v2h-1zM476 477h1v1h-1zM477 476h1v1h-1zM478 475h1v1h-1zM479 475h1v1h-1zM480 474h1v1h-1zM481 474h1v1h-1zM482 473h1v1h-1zM483 473h1v1h-1zM484 472h1v1h-1zM485 472h1v1h-1zM486 471h1v1h-1zM487 471h1v1h-1zM488 471h1v1h-1zM489 471h1v1h-1zM490 471h1v1h-1zM491 471h1v1h-1zM492 471h1v1h-1zM493 471h1v1h-1zM494 471h1v1h-1zM495 471h1v1h-1zM496 471h1v1h-1zM497 471h1v1h-1zM498 471h1v1h-1zM499 471h1v1h-1zM500 471h1v1h-1zM501 471h1v1h-1zM502 471h1v1h-1zM503 471h1v1h-1zM504 471h1v1h-1zM505 471h1v1h-1zM506 471h1v1h-1zM507 471h1v1h-1zM508 471h1v1h-1zM509 471h1v1h-1zM510 470h1v1h-1zM511 470h1v1h-1zM512 470h1v1h-1zM513 470h1v1h-1zM514 469h1v1h-1zM515 469h1v1h-1zM516 468h1v1h-1zM517 468h1v1h-1zM518 468h1v1h-1zM519 468h1v1h-1zM520 467h1v1h-1zM521 467h1v1h-1zM522 467h1v1h-1zM523 467h1v1h-1zM524 467h1v1h-1zM525 466h1v1h-1zM526 466h1v1h-1zM527 466h1v1h-1zM528 466h1v1h-1zM529 466h1v1h-1zM530 466h1v1h-1zM531 466h1v1h-1zM532 466h1v1h-1zM533 466h1v1h-1zM534 465h1v1h-1zM535 465h1v1h-1zM536 464h1v1h-1zM537 464h1v1h-1zM538 464h1v1h-1zM539 463h1v1h-1zM540 463h1v1h-1zM541 462h1v1h-1zM542 462h1v1h-1zM543 462h1v1h-1zM544 461h1v1h-1zM545 461h1v1h-1zM546 460h1v1h-1zM547 460h1v1h-1zM548 460h1v1h-1zM549 459h1v1h-1zM550 459h1v1h-1zM551 458h1v1h-1zM552 458h1v1h-1zM553 458h1v1h-1zM554 458h1v1h-1zM555 457h1v1h-1zM556 457h1v1h-1zM557 457h1v1h-1zM558 457h1v1h-1zM559 457h1v1h-1zM560 457h1v1h-1zM561 457h1v1h-1zM562 457h1v1h-1zM563 457h1v1h-1zM564 457h1v1h-1zM565 458h1v1h-1zM566 458h1v1h-1zM567 458h1v1h-1zM568 458h1v1h-1zM569 458h1v1h-1zM570 459h1v1h-1zM571 459h1v1h-1zM572 459h1v1h-1zM573 459h1v1h-1zM574 459h1v1h-1zM575 459h1v1h-1zM576 459h1v1h-1zM577 459h1v1h-1zM578 459h1v1h-1zM579 459h1v1h-1zM580 460h1v1h-1zM581 460h1v1h-1zM582 460h1v1h-1zM583 460h1v1h-1zM584 460h1v1h-1zM585 460h1v1h-1zM586 460h1v1h-1zM587 460h1v1h-1zM588 460h1v1h-1zM589 460h1v1h-1zM590 460h1v1h-1zM591 460h1v1h-1zM592 460h1v1h-1zM593 460h1v1h-1zM594 460h1v1h-1zM595 460h1v1h-1zM596 460h1v1h-1zM597 460h1v1h-1zM598 460h1v1h-1zM599 460h1v1h-1zM600 459h1v1h-1zM601 459h1v1h-1zM602 459h1v1h-1zM603 459h1v1h-1zM604 458h1v1h-1zM605 458h1v1h-1zM606 457h1v1h-1zM607 457h1v1h-1zM608 456h1v1h-1zM609 456h1v1h-1zM610 455h1v1h-1zM611 455h1v1h-1zM612 454h1v1h-1zM613 453h1v1h-1zM614 453h1v1h-1zM615 452h1v1h-1zM616 452h1v1h-1zM617 451h1v1h-1zM618 451h1v1h-1zM619 450h1v1h-1zM620 450h1v1h-1zM621 449h1v1h-1zM622 449h1v1h-1zM623 449h1v1h-1zM624 449h1v1h-1zM625 448h1v1h-1zM626 448h1v1h-1zM627 448h1v1h-1zM628 448h1v1h-1zM629 448h1v1h-1zM630 448h1v1h-1zM631 448h1v1h-1zM632 448h1v1h-1z" fill="#3fbf7f" shape-rendering="crispEdges"/>
<path d="M92 519h1v1h-1zM93 520h1v1h-1zM94 521h1v1h-1zM95 522h1v1h-1zM96 523h1v1h-1zM97 524h1v1h-1zM98 525h1v2h-1zM99 527h1v1h-1zM100 528h1v1h-1zM101 529h1v2h-1zM102 531h1v1h-1zM103 532h1v1h-1zM104 533h1v1h-1zM105 533h1v1h-1zM106 534h1v1h-1zM107 535h1v1h-1zM108 535h1v1h-1zM109 535h1v1h-1zM110 534h1v1h-1zM111 534h1v1h-1zM112 534h1v1h-1zM113 534h1v1h-1zM114 534h1v1h-1zM115 533h1v1h-1zM116 533h1v1h-1zM117 533h1v1h-1zM118 531h1v2h-1zM119 530h1v1h-1zM120 528h1v2h-1zM121 526h1v2h-1zM122 525h1v1h-1zM123 523h1v2h-1zM124 522h1v1h-1zM125 520h1v2h-1zM126 518h1v2h-1zM127 517h1v1h-1zM128 515h1v2h-1zM129 513h1v2h-1zM130 511h1v2h-1zM131 509h1v2h-1zM132 508h1v1h-1zM133 507h1v1h-1zM134 507h1v1h-1zM135 506h1v1h-1zM136 506h1v1h-1zM137 505h1v1h-1zM138 503h1v2h-1zM139 502h1v1h-1zM140 500h1v2h-1zM141 498h1v2h-1zM142 497h1v1h-1zM143 495h1v2h-1zM144 493h1v2h-1zM145 491h1v2h-1zM146 489h1v2h-1zM147 487h1v2h-1zM148 485h1v2h-1zM149 483h1v2h-1zM150 481h1v2h-1zM151 479h1v2h-1zM152 477h1v2h-1zM153 476h1v1h-1zM154 475h1v1h-1zM155 475h1v1h-1zM156 474h1v1h-1zM157 473h1v1h-1zM158 472h1v1h-1zM159 471h1v1h-1zM160 470h1v1h-1zM161 469h1v1h-1zM162 468h1v1h-1zM163 467h1v1h-1zM164 466h1v1h-1zM165 465h1v1h-1zM166 464h1v1h-1zM167 463h1v1h-1zM168 464h1v1h-1zM169 464h1v1h-1zM170 465h1v1h-1zM171 465h1v1h-1zM172 466h1v1h-1zM173 467h1v2h-1zM174 469h1v2h-1zM175 471h1v2h-1zM176 473h1v2h-1zM177 475h1v1h-1zM178 476h1v2h-1zM179 478h1v1h-1zM180 479h1v1h-1zM181 480h1v2h-1zM182 482h1v1h-1zM183 483h1v1h-1zM184 484h1v1h-1zM185 484h1v1h-1zM186 485h1v1h-1zM187 486h1v1h-1zM188 486h1v1h-1zM189 486h1v1h-1zM190 486h1v1h-1zM191 486h1v1h-1zM192 486h1v1h-1zM193 485h1v1h-1zM194 484h1v1h-1zM195 484h1v1h-1zM196 483h1v1h-1zM197 482h1v1h-1zM198 481h1v1h-1zM199 481h1v1h-1zM200 480h1v1h-1zM201 480h1v1h-1zM202 479h1v1h-1zM203 477h1v2h-1zM204 476h1v1h-1zM205 475h1v1h-1zM206 473h1v2h-1zM207 472h1v1h-1zM208 470h1v2h-1zM209 468h1v2h-1zM210 466h1v2h-1zM211 464h1v2h-1zM212 463h1v2h-1zM213 465h1v2h-1zM214 467h1v2h-1zM215 469h1v2h-1zM216 471h1v2h-1zM217 473h1v2h-1zM218 475h1v2h-1zM219 477h1v1h-1zM220 478h1v2h-1zM221 480h1v2h-1zM222 482h1v1h-1zM223 483h1v1h-1zM224 484h1v1h-1zM225 484h1v1h-1zM226 485h1v1h-1zM227 486h1v1h-1zM228 487h1v2h-1zM229 489h1v1h-1zM230 490h1v1h-1zM231 491h1v2h-1zM232 493h1v1h-1zM233 494h1v1h-1zM234 495h1v1h-1zM235 496h1v2h-1zM236 498h1v1h-1zM237 499h1v1h-1zM238 500h1v1h-1zM239 500h1v1h-1zM240 501h1v1h-1zM241 501h1v1h-1zM242 502h1v1h-1zM243 502h1v1h-1zM244 502h1v1h-1zM245 502h1v1h-1zM246 502h1v1h-1zM247 502h1v1h-1zM248 502h1v1h-1zM249 502h1v1h-1zM250 503h1v1h-1zM251 503h1v1h-1zM252 503h1v1h-1zM253 504h1v1h-1zM254 505h1v1h-1zM255 505h1v1h-1zM256 506h1v1h-1zM257 507h1v1h-1zM258 507h1v1h-1zM259 508h1v1h-1zM260 508h1v1h-1zM261 509h1v1h-1zM262 509h1v1h-1zM263 510h1v1h-1zM264 511h1v1h-1zM265 511h1v1h-1zM266 512h1v1h-1zM267 513h1v1h-1zM268 513h1v1h-1zM269 513h1v1h-1zM270 513h1v1h-1zM271 513h1v1h-1zM272 513h1v1h-1zM273 513h1v1h-1zM274 514h1v1h-1zM275 514h1v1h-1zM276 515h1v1h-1zM277 515h1v1h-1zM278 516h1v1h-1zM279 516h1v1h-1zM280 517h1v1h-1zM281 517h1v1h-1zM282 518h1v1h-1zM283 517h1v1h-1zM284 517h1v1h-1zM285 516h1v1h-1zM286 516h1v1h-1zM287 515h1v1h-1zM288 516h1v1h-1zM289 517h1v1h-1zM290 517h1v1h-1zM291 518h1v1h-1zM292 519h1v1h-1zM293 519h1v1h-1zM294 519h1v1h-1zM295 519h1v1h-1zM296 519h1v1h-1zM297 519h1v1h-1zM298 520h1v1h-1zM299 520h1v1h-1zM300 521h1v1h-1zM301 521h1v1h-1zM302 522h1v1h-1zM303 522h1v1h-1zM304 523h1v1h-1zM305 523h1v1h-1zM306 524h1v1h-1zM307 524h1v1h-1zM308 525h1v1h-1zM309 525h1v1h-1zM310 526h1v1h-1zM311 526h1v1h-1zM312 527h1v1h-1zM313 527h1v1h-1zM314 528h1v1h-1zM315 528h1v1h-1zM316 529h1v1h-1zM317 529h1v1h-1zM318 529h1v1h-1zM319 530h1v1h-1zM320 530h1v1h-1zM321 531h1v1h-1zM322 531h1v1h-1zM323 530h1v1h-1zM324 529h1v1h-1zM325 527h1v2h-1zM326 526h1v1h-1zM327 525h1v1h-1zM328 525h1v1h-1zM329 524h1v1h-1zM330 524h1v1h-1zM331 523h1v1h-1zM332 523h1v1h-1zM333 522h1v1h-1zM334 521h1v1h-1zM335 521h1v1h-1zM336 520h1v1h-1zM337 519h1v1h-1zM338 519h1v1h-1zM339 520h1v1h-1zM340 520h1v1h-1zM341 521h1v1h-1zM342 521h1v1h-1zM343 521h1v1h-1zM344 522h1v1h-1zM345 522h1v1h-1zM346 523h1v1h-1zM347 523h1v1h-1zM348 523h1v1h-1zM349 524h1v1h-1zM350 524h1v1h-1zM351 525h1v1h-1zM352 525h1v1h-1zM353 525h1v1h-1zM354 525h1v1h-1zM355 526h1v1h-1zM356 526h1v1h-1zM357 526h1v1h-1zM358 526h1v1h-1zM359 527h1v1h-1zM360 527h1v1h-1zM361 528h1v1h-1zM362 528h1v1h-1zM363 528h1v1h-1zM364 528h1v1h-1zM365 528h1v1h-1zM366 528h1v1h-1zM367 528h1v1h-1zM368 528h1v1h-1zM369 529h1v1h-1zM370 529h1v1h-1zM371 530h1v1h-1zM372 530h1v1h-1zM373 531h1v1h-1zM374 532h1v1h-1zM375 532h1v1h-1zM376 533h1v1h-1zM377 534h1v1h-1zM378 534h1v1h-1zM379 535h1v1h-1zM380 535h1v1h-1zM381 536h1v1h-1zM382 536h1v1h-1zM383 535h1v1h-1zM384 534h1v1h-1zM385 533h1v1h-1zM386 532h1v1h-1zM387 531h1v1h-1zM388 531h1v1h-1zM389 530h1v1h-1zM390 530h1v1h-1zM391 529h1v1h-1zM392 529h1v1h-1zM393 529h1v1h-1zM394 529h1v1h-1zM395 528h1v1h-1zM396 528h1v1h-1zM397 528h1v1h-1zM398 528h1v1h-1zM399 527h1v1h-1zM400 527h1v1h-1zM401 526h1v1h-1zM402 526h1v1h-1zM403 525h1v1h-1zM404 524h1v1h-1zM405 522h1v2h-1zM406 521h1v1h-1zM407 519h1v2h-1zM408 517h1v2h-1zM409 515h1v2h-1zM410 513h1v2h-1zM411 511h1v2h-1zM412 509h1v2h-1zM413 508h1v1h-1zM414 507h1v1h-1zM415 506h1v1h-1zM416 505h1v1h-1zM417 504h1v1h-1zM418 504h1v1h-1zM419 504h1v1h-1zM420 505h1v1h-1zM421 505h1v1h-1zM422 505h1v1h-1zM423 506h1v1h-1zM424 507h1v1h-1zM425 507h1v1h-1zM426 508h1v1h-1zM427 509h1v1h-1zM428 510h1v2h-1zM429 512h1v1h-1zM430 513h1v2h-1zM431 515h1v2h-1zM432 517h1v1h-1zM433 518h1v1h-1zM434 519h1v1h-1zM435 520h1v1h-1zM436 521h1v1h-1zM437 522h1v1h-1zM438 523h1v1h-1zM439 523h1v1h-1zM440 524h1v1h-1zM441 524h1v1h-1zM442 525h1v1h-1zM443 523h1v2h-1zM444 521h1v2h-1zM445 519h1v2h-1zM446 517h1v2h-1zM447 513h1v4h-1zM448 509h1v4h-1zM449 505h1v4h-1zM450 501h1v4h-1zM451 497h1v4h-1zM452 493h1v4h-1zM453 489h1v4h-1zM454 485h1v4h-1zM455 481h1v4h-1zM456 477h1v4h-1zM457 473h1v4h-1zM458 471h1v2h-1zM459 468h1v3h-1zM460 465h1v3h-1zM461 463h1v2h-1zM462 461h1v2h-1zM463 461h1v1h-1zM464 461h1v1h-1zM465 460h1v1h-1zM466 460h1v1h-1zM467 460h1v1h-1zM468 459h1v1h-1zM469 458h1v1h-1zM470 457h1v1h-1zM471 456h1v1h-1zM472 455h1v1h-1zM473 455h1v1h-1zM474 454h1v1h-1zM475 454h1v1h-1zM476 453h1v1h-1zM477 453h1v1h-1zM478 454h1v1h-1zM479 455h1v1h-1zM480 455h1v1h-1zM481 456h1v1h-1zM482 457h1v1h-1zM483 458h1v2h-1zM484 460h1v1h-1zM485 461h1v2h-1zM486 463h1v2h-1zM487 465h1v1h-1zM488 466h1v1h-1zM489 467h1v1h-1zM490 468h1v1h-1zM491 469h1v1h-1zM492 470h1v1h-1zM493 471h1v1h-1zM494 472h1v1h-1zM495 472h1v1h-1zM496 473h1v1h-1zM497 474h1v1h-1zM498 474h1v1h-1zM499 473h1v1h-1zM500 473h1v1h-1zM501 472h1v1h-1zM502 472h1v1h-1zM503 472h1v1h-1zM504 471h1v1h-1zM505 471h1v1h-1zM506 470h1v1h-1zM507 470h1v1h-1zM508 469h1v1h-1zM509 468h1v1h-1zM510 468h1v1h-1zM511 467h1v1h-1zM512 466h1v1h-1zM513 465h1v1h-1zM514 465h1v1h-1zM515 464h1v1h-1zM516 464h1v1h-1zM517 463h1v1h-1zM518 463h1v1h-1zM519 462h1v1h-1zM520 462h1v1h-1zM521 461h1v1h-1zM522 461h1v1h-1zM523 462h1v1h-1zM524 462h1v1h-1zM525 463h1v1h-1zM526 463h1v1h-1zM527 464h1v1h-1zM528 464h1v1h-1zM529 464h1v1h-1zM530 464h1v1h-1zM531 464h1v1h-1zM532 464h1v1h-1zM533 463h1v1h-1zM534 462h1v1h-1zM535 460h1v2h-1zM536 459h1v1h-1zM537 458h1v1h-1zM538 457h1v1h-1zM539 456h1v1h-1zM540 456h1v1h-1zM541 455h1v1h-1zM542 454h1v1h-1zM543 453h1v1h-1zM544 453h1v1h-1zM545 452h1v1h-1zM546 452h1v1h-1zM547 451h1v1h-1zM548 451h1v1h-1zM549 451h1v1h-1zM550 452h1v1h-1zM551 452h1v1h-1zM552 452h1v1h-1zM553 452h1v1h-1zM554 452h1v1h-1zM555 452h1v1h-1zM556 452h1v1h-1zM557 452h1v1h-1zM558 453h1v1h-1zM559 454h1v1h-1zM560 455h1v2h-1zM561 457h1v1h-1zM562 458h1v1h-1zM563 459h1v1h-1zM564 460h1v1h-1zM565 460h1v1h-1zM566 461h1v1h-1zM567 462h1v1h-1zM568 462h1v1h-1zM569 462h1v1h-1zM570 462h1v1h-1zM571 462h1v1h-1zM572 462h1v1h-1zM573 462h1v1h-1zM574 462h1v1h-1zM575 462h1v1h-1zM576 462h1v1h-1zM577 462h1v1h-1zM578 462h1v1h-1zM579 461h1v1h-1zM580 461h1v1h-1zM581 460h1v1h-1zM582 460h1v1h-1zM583 460h1v1h-1zM584 460h1v1h-1zM585 461h1v1h-1zM586 461h1v1h-1zM587 461h1v1h-1zM588 461h1v1h-1zM589 461h1v1h-1zM590 462h1v1h-1zM591 462h1v1h-1zM592 462h1v1h-1zM593 462h1v1h-1zM594 461h1v1h-1zM595 461h1v1h-1zM596 460h1v1h-1zM597 460h1v1h-1zM598 460h1v1h-1zM599 459h1v1h-1zM600 459h1v1h-1zM601 458h1v1h-1zM602 458h1v1h-1zM603 456h1v2h-1zM604 454h1v2h-1zM605 452h1v2h-1zM606 450h1v2h-1zM607 448h1v2h-1zM608 446h1v2h-1zM609 445h1v1h-1zM610 444h1v1h-1zM611 442h1v2h-1zM612 441h1v1h-1zM613 441h1v1h-1zM614 441h1v1h-1zM615 441h1v1h-1zM616 441h1v1h-1zM617 441h1v1h-1zM618 441h1v1h-1zM619 441h1v1h-1zM620 440h1v1h-1zM621 440h1v1h-1zM622 440h1v1h-1zM623 441h1v1h-1zM624 442h1v1h-1zM625 442h1v1h-1zM626 443h1v1h-1zM627 444h1v1h-1zM628 445h1v1h-1zM629 445h1v1h-1zM630 446h1v1h-1zM631 446h1v1h-1zM632 447h1v1h-1z" fill="#2f86f6" shape-rendering="crispEdges"/>
<path d="M92 657h1v1h-1zM93 658h1v2h-1zM94 660h1v2h-1zM95 662h1v2h-1zM96 664h1v2h-1zM97 666h1v2h-1zM98 668h1v2h-1zM99 670h1v2h-1zM100 672h1v2h-1zM101 674h1v2h-1zM102 676h1v2h-1zM103 676h1v1h-1zM104 675h1v1h-1zM105 675h1v1h-1zM106 674h1v1h-1zM107 671h1v3h-1zM108 667h1v4h-1zM109 662h1v5h-1zM110 657h1v5h-1zM111 653h1v4h-1zM112 650h1v3h-1zM113 651h1v2h-1zM114 653h1v1h-1zM115 654h1v2h-1zM116 656h1v2h-1zM117 656h1v3h-1zM118 651h1v5h-1zM119 647h1v4h-1zM120 642h1v5h-1zM121 637h1v5h-1zM122 634h1v3h-1zM123 633h1v1h-1zM124 632h1v1h-1zM125 630h1v2h-1zM126 629h1v1h-1zM127 628h1v1h-1zM128 629h1v1h-1zM129 630h1v1h-1zM130 630h1v1h-1zM131 631h1v1h-1zM132 632h1v1h-1zM133 632h1v1h-1zM134 632h1v1h-1zM135 633h1v1h-1zM136 633h1v1h-1zM137 632h1v2h-1zM138 629h1v3h-1zM139 626h1v3h-1zM140 622h1v4h-1zM141 619h1v3h-1zM142 617h1v2h-1zM143 616h1v1h-1zM144 616h1v1h-1zM145 615h1v1h-1zM146 615h1v1h-1zM147 613h1v2h-1zM148 611h1v2h-1zM149 608h1v3h-1zM150 605h1v3h-1zM151 603h1v2h-1zM152 601h1v2h-1zM153 603h1v4h-1zM154 607h1v4h-1zM155 611h1v4h-1zM156 615h1v4h-1zM157 619h1v3h-1zM158 619h1v2h-1zM159 617h1v2h-1zM160 615h1v2h-1zM161 613h1v2h-1zM162 612h1v1h-1zM163 612h1v1h-1zM164 611h1v1h-1zM165 611h1v1h-1zM166 610h1v1h-1zM167 610h1v3h-1zM168 613h1v6h-1zM169 619h1v5h-1zM170 624h1v6h-1zM171 630h1v6h-1zM172 636h1v4h-1zM173 640h1v2h-1zM174 642h1v2h-1zM175 644h1v3h-1zM176 647h1v2h-1zM177 649h1v2h-1zM178 651h1v1h-1zM179 651h1v1h-1zM180 652h1v1h-1zM181 652h1v1h-1zM182 653h1v1h-1zM183 651h1v2h-1zM184 649h1v2h-1zM185 647h1v2h-1zM186 645h1v2h-1zM187 644h1v1h-1zM188 642h1v2h-1zM189 640h1v2h-1zM190 638h1v2h-1zM191 636h1v2h-1zM192 633h1v3h-1zM193 631h1v2h-1zM194 629h1v2h-1zM195 627h1v2h-1zM196 625h1v2h-1zM197 623h1v2h-1zM198 623h1v1h-1zM199 623h1v1h-1zM200 624h1v1h-1zM201 624h1v1h-1zM202 623h1v2h-1zM203 621h1v2h-1zM204 618h1v3h-1zM205 615h1v3h-1zM206 613h1v2h-1zM207 610h1v3h-1zM208 608h1v2h-1zM209 605h1v3h-1zM210 602h1v3h-1zM211 600h1v2h-1zM212 598h1v6h-1zM213 604h1v11h-1zM214 615h1v11h-1zM215 626h1v12h-1zM216 638h1v11h-1zM217 649h1v6h-1zM218 655h1v1h-1zM219 656h1v1h-1zM220 656h1v1h-1zM221 657h1v1h-1zM222 658h1v1h-1zM223 656h1v2h-1zM224 655h1v1h-1zM225 654h1v1h-1zM226 652h1v2h-1zM227 651h1v1h-1zM228 652h1v1h-1zM229 652h1v1h-1zM230 653h1v1h-1zM231 653h1v1h-1zM232 654h1v1h-1zM233 655h1v1h-1zM234 656h1v1h-1zM235 656h1v1h-1zM236 657h1v1h-1zM237 658h1v1h-1zM238 656h1v2h-1zM239 654h1v2h-1zM240 652h1v2h-1zM241 650h1v2h-1zM242 648h1v2h-1zM243 647h1v1h-1zM244 646h1v1h-1zM245 645h1v1h-1zM246 644h1v1h-1zM247 643h1v1h-1zM248 644h1v1h-1zM249 645h1v1h-1zM250 646h1v1h-1zM251 647h1v1h-1zM252 648h1v1h-1zM253 649h1v2h-1zM254 651h1v1h-1zM255 652h1v2h-1zM256 654h1v2h-1zM257 656h1v1h-1zM258 655h1v1h-1zM259 654h1v1h-1zM260 652h1v2h-1zM261 651h1v1h-1zM262 650h1v1h-1zM263 651h1v2h-1zM264 653h1v2h-1zM265 655h1v2h-1zM266 657h1v2h-1zM267 658h1v2h-1zM268 656h1v2h-1zM269 654h1v2h-1zM270 652h1v2h-1zM271 650h1v2h-1zM272 648h1v2h-1zM273 649h1v1h-1zM274 649h1v1h-1zM275 650h1v1h-1zM276 650h1v1h-1zM277 651h1v1h-1zM278 652h1v1h-1zM279 653h1v1h-1zM280 654h1v2h-1zM281 656h1v1h-1zM282 656h1v2h-1zM283 652h1v4h-1zM284 649h1v3h-1zM285 646h1v3h-1zM286 642h1v4h-1zM287 640h1v3h-1zM288 643h1v5h-1zM289 648h1v5h-1zM290 653h1v5h-1zM291 658h1v5h-1zM292 663h1v3h-1zM293 661h1v3h-1zM294 659h1v2h-1zM295 656h1v3h-1zM296 653h1v3h-1zM297 651h1v2h-1zM298 652h1v2h-1zM299 654h1v1h-1zM300 655h1v2h-1zM301 657h1v2h-1zM302 659h1v1h-1zM303 659h1v1h-1zM304 658h1v1h-1zM305 658h1v1h-1zM306 657h1v1h-1zM307 657h1v1h-1zM308 658h1v2h-1zM309 660h1v1h-1zM310 661h1v2h-1zM311 663h1v2h-1zM312 665h1v1h-1zM313 664h1v1h-1zM314 664h1v1h-1zM315 663h1v1h-1zM316 663h1v1h-1zM317 662h1v1h-1zM318 662h1v1h-1zM319 661h1v1h-1zM320 661h1v1h-1zM321 660h1v1h-1zM322 658h1v3h-1zM323 654h1v4h-1zM324 650h1v4h-1zM325 645h1v5h-1zM326 641h1v4h-1zM327 638h1v3h-1zM328 639h1v2h-1zM329 641h1v1h-1zM330 642h1v1h-1zM331 643h1v2h-1zM332 645h1v1h-1zM333 643h1v2h-1zM334 642h1v1h-1zM335 640h1v2h-1zM336 638h1v2h-1zM337 637h1v3h-1zM338 640h1v4h-1zM339 644h1v4h-1zM340 648h1v5h-1zM341 653h1v4h-1zM342 657h1v3h-1zM343 659h1v1h-1zM344 659h1v1h-1zM345 658h1v1h-1zM346 658h1v1h-1zM347 658h1v1h-1zM348 658h1v1h-1zM349 658h1v1h-1zM350 659h1v1h-1zM351 659h1v1h-1zM352 659h1v1h-1zM353 659h1v1h-1zM354 659h1v1h-1zM355 658h1v1h-1zM356 658h1v1h-1zM357 658h1v1h-1zM358 659h1v1h-1zM359 660h1v1h-1zM360 661h1v1h-1zM361 662h1v1h-1zM362 663h1v1h-1zM363 661h1v2h-1zM364 659h1v2h-1zM365 657h1v2h-1zM366 655h1v2h-1zM367 653h1v2h-1zM368 654h1v2h-1zM369 656h1v1h-1zM370 657h1v1h-1zM371 658h1v2h-1zM372 660h1v2h-1zM373 662h1v4h-1zM374 666h1v3h-1zM375 669h1v3h-1zM376 672h1v4h-1zM377 676h1v2h-1zM378 674h1v2h-1zM379 672h1v2h-1zM380 670h1v2h-1zM381 668h1v2h-1zM382 664h1v4h-1zM383 660h1v4h-1zM384 656h1v4h-1zM385 651h1v5h-1zM386 647h1v4h-1zM387 644h1v3h-1zM388 644h1v1h-1zM389 644h1v1h-1zM390 644h1v1h-1zM391 644h1v1h-1zM392 644h1v1h-1zM393 645h1v1h-1zM394 646h1v1h-1zM395 647h1v2h-1zM396 649h1v1h-1zM397 650h1v1h-1zM398 651h1v1h-1zM399 651h1v1h-1zM400 652h1v1h-1zM401 652h1v1h-1zM402 651h1v3h-1zM403 646h1v5h-1zM404 641h1v5h-1zM405 636h1v5h-1zM406 631h1v5h-1zM407 627h1v4h-1zM408 624h1v3h-1zM409 621h1v3h-1zM410 617h1v4h-1zM411 614h1v3h-1zM412 612h1v2h-1zM413 613h1v2h-1zM414 615h1v2h-1zM415 617h1v2h-1zM416 619h1v2h-1zM417 621h1v2h-1zM418 623h1v4h-1zM419 627h1v4h-1zM420 631h1v4h-1zM421 635h1v4h-1zM422 639h1v4h-1zM423 643h1v4h-1zM424 647h1v3h-1zM425 650h1v3h-1zM426 653h1v4h-1zM427 657h1v3h-1zM428 660h1v3h-1zM429 663h1v2h-1zM430 665h1v3h-1zM431 668h1v3h-1zM432 671h1v2h-1zM433 671h1v1h-1zM434 670h1v1h-1zM435 670h1v1h-1zM436 669h1v1h-1zM437 668h1v1h-1zM438 667h1v1h-1zM439 666h1v1h-1zM440 666h1v1h-1zM441 665h1v1h-1zM442 660h1v5h-1zM443 650h1v10h-1zM444 640h1v10h-1zM445 630h1v10h-1zM446 620h1v10h-1zM447 614h1v6h-1zM448 611h1v3h-1zM449 608h1v3h-1zM450 605h1v3h-1zM451 602h1v3h-1zM452 600h1v2h-1zM453 598h1v2h-1zM454 597h1v1h-1zM455 596h1v1h-1zM456 594h1v2h-1zM457 593h1v1h-1zM458 592h1v1h-1zM459 592h1v1h-1zM460 591h1v1h-1zM461 591h1v1h-1zM462 590h1v4h-1zM463 594h1v7h-1zM464 601h1v6h-1zM465 607h1v7h-1zM466 614h1v7h-1zM467 621h1v4h-1zM468 622h1v2h-1zM469 620h1v2h-1zM470 618h1v2h-1zM471 616h1v2h-1zM472 614h1v2h-1zM473 615h1v1h-1zM474 616h1v1h-1zM475 617h1v2h-1zM476 619h1v1h-1zM477 620h1v2h-1zM478 622h1v2h-1zM479 624h1v3h-1zM480 627h1v3h-1zM481 630h1v2h-1zM482 632h1v3h-1zM483 635h1v2h-1zM484 637h1v2h-1zM485 639h1v3h-1zM486 642h1v2h-1zM487 644h1v2h-1zM488 644h1v1h-1zM489 644h1v1h-1zM490 643h1v1h-1zM491 643h1v1h-1zM492 642h1v1h-1zM493 642h1v1h-1zM494 641h1v1h-1zM495 641h1v1h-1zM496 640h1v1h-1zM497 639h1v2h-1zM498 636h1v3h-1zM499 633h1v3h-1zM500 629h1v4h-1zM501 626h1v3h-1zM502 624h1v2h-1zM503 624h1v1h-1zM504 624h1v1h-1zM505 623h1v1h-1zM506 623h1v1h-1zM507 623h1v1h-1zM508 622h1v1h-1zM509 621h1v1h-1zM510 619h1v2h-1zM511 618h1v1h-1zM512 617h1v1h-1zM513 616h1v1h-1zM514 615h1v1h-1zM515 615h1v1h-1zM516 614h1v1h-1zM517 613h1v1h-1zM518 613h1v1h-1zM519 613h1v1h-1zM520 613h1v1h-1zM521 613h1v1h-1zM522 613h1v2h-1zM523 615h1v3h-1zM524 618h1v3h-1zM525 621h1v4h-1zM526 625h1v3h-1zM527 628h1v2h-1zM528 627h1v2h-1zM529 625h1v2h-1zM530 623h1v2h-1zM531 621h1v2h-1zM532 619h1v2h-1zM533 616h1v3h-1zM534 613h1v3h-1zM535 609h1v4h-1zM536 606h1v3h-1zM537 604h1v2h-1zM538 604h1v1h-1zM539 604h1v1h-1zM540 605h1v1h-1zM541 605h1v1h-1zM542 605h1v1h-1zM543 605h1v1h-1zM544 604h1v1h-1zM545 604h1v1h-1zM546 603h1v1h-1zM547 603h1v2h-1zM548 605h1v3h-1zM549 608h1v2h-1zM550 610h1v3h-1zM551 613h1v3h-1zM552 616h1v2h-1zM553 616h1v1h-1zM554 615h1v1h-1zM555 613h1v2h-1zM556 612h1v1h-1zM557 611h1v3h-1zM558 614h1v5h-1zM559 619h1v4h-1zM560 623h1v5h-1zM561 628h1v5h-1zM562 633h1v3h-1zM563 633h1v2h-1zM564 632h1v1h-1zM565 631h1v1h-1zM566 629h1v2h-1zM567 628h1v1h-1zM568 626h1v2h-1zM569 624h1v2h-1zM570 622h1v2h-1zM571 620h1v2h-1zM572 619h1v1h-1zM573 619h1v1h-1zM574 619h1v1h-1zM575 618h1v1h-1zM576 618h1v1h-1zM577 618h1v1h-1zM578 616h1v2h-1zM579 614h1v2h-1zM580 612h1v2h-1zM581 610h1v2h-1zM582 609h1v1h-1zM583 610h1v2h-1zM584 612h1v1h-1zM585 613h1v2h-1zM586 615h1v2h-1zM587 617h1v1h-1zM588 617h1v1h-1zM589 617h1v1h-1zM590 617h1v1h-1zM591 617h1v1h-1zM592 616h1v2h-1zM593 614h1v2h-1zM594 612h1v2h-1zM595 610h1v2h-1zM596 608h1v2h-1zM597 606h1v2h-1zM598 605h1v1h-1zM599 605h1v1h-1zM600 604h1v1h-1zM601 604h1v1h-1zM602 602h1v2h-1zM603 598h1v4h-1zM604 594h1v4h-1zM605 590h1v4h-1zM606 586h1v4h-1zM607 583h1v3h-1zM608 582h1v1h-1zM609 582h1v1h-1zM610 581h1v1h-1zM611 581h1v1h-1zM612 580h1v3h-1zM613 583h1v6h-1zM614 589h1v6h-1zM615 595h1v6h-1zM616 601h1v6h-1zM617 607h1v3h-1zM618 607h1v2h-1zM619 606h1v1h-1zM620 605h1v1h-1zM621 603h1v2h-1zM622 602h1v3h-1zM623 605h1v4h-1zM624 609h1v4h-1zM625 613h1v4h-1zM626 617h1v4h-1zM627 621h1v3h-1zM628 623h1v1h-1zM629 623h1v1h-1zM630 622h1v1h-1zM631 622h1v1h-1zM632 622h1v1h-1z" fill="#2aa5e0" shape-rendering="crispEdges"/>
<g shape-rendering="crispEdges">
<rect x="92" y="528" width="1" height="2" fill="#e8465a"/>
<rect x="97" y="529" width="1" height="9" fill="#4db381"/>
<rect x="102" y="529" width="1" height="19" fill="#4db381"/>
<rect x="107" y="529" width="1" height="23" fill="#4db381"/>
<rect x="112" y="529" width="1" height="13" fill="#4db381"/>
<rect x="117" y="529" width="1" height="10" fill="#4db381"/>
<rect x="122" y="524" width="1" height="6" fill="#e8465a"/>
<rect x="127" y="510" width="1" height="20" fill="#e8465a"/>
<rect x="132" y="505" width="1" height="25" fill="#e8465a"/>
<rect x="137" y="504" width="1" height="26" fill="#e8465a"/>
<rect x="142" y="495" width="1" height="35" fill="#e8465a"/>
<rect x="147" y="488" width="1" height="42" fill="#e8465a"/>
<rect x="152" y="477" width="1" height="53" fill="#e8465a"/>
<rect x="157" y="482" width="1" height="48" fill="#e8465a"/>
<rect x="162" y="482" width="1" height="48" fill="#e8465a"/>
<rect x="167" y="483" width="1" height="47" fill="#e8465a"/>
<rect x="172" y="499" width="1" height="31" fill="#e8465a"/>
<rect x="177" y="518" width="1" height="12" fill="#e8465a"/>
<rect x="182" y="529" width="1" height="4" fill="#4db381"/>
<rect x="187" y="529" width="1" height="10" fill="#4db381"/>
<rect x="192" y="529" width="1" height="8" fill="#4db381"/>
<rect x="197" y="529" width="1" height="1" fill="#e8465a"/>
<rect x="202" y="525" width="1" height="5" fill="#e8465a"/>
<rect x="207" y="516" width="1" height="14" fill="#e8465a"/>
<rect x="212" y="501" width="1" height="29" fill="#e8465a"/>
<rect x="217" y="522" width="1" height="8" fill="#e8465a"/>
<rect x="222" y="529" width="1" height="11" fill="#4db381"/>
<rect x="227" y="529" width="1" height="17" fill="#4db381"/>
<rect x="232" y="529" width="1" height="23" fill="#4db381"/>
<rect x="237" y="529" width="1" height="28" fill="#4db381"/>
<rect x="242" y="529" width="1" height="27" fill="#4db381"/>
<rect x="247" y="529" width="1" height="22" fill="#4db381"/>
<rect x="252" y="529" width="1" height="20" fill="#4db381"/>
<rect x="257" y="529" width="1" height="21" fill="#4db381"/>
<rect x="262" y="529" width="1" height="19" fill="#4db381"/>
<rect x="267" y="529" width="1" height="23" fill="#4db381"/>
<rect x="272" y="529" width="1" height="20" fill="#4db381"/>
<rect x="277" y="529" width="1" height="18" fill="#4db381"/>
<rect x="282" y="529" width="1" height="19" fill="#4db381"/>
<rect x="287" y="529" width="1" height="11" fill="#4db381"/>
<rect x="292" y="529" width="1" height="16" fill="#4db381"/>
<rect x="297" y="529" width="1" height="14" fill="#4db381"/>
<rect x="302" y="529" width="1" height="14" fill="#4db381"/>
<rect x="307" y="529" width="1" height="15" fill="#4db381"/>
<rect x="312" y="529" width="1" height="17" fill="#4db381"/>
<rect x="317" y="529" width="1" height="18" fill="#4db381"/>
<rect x="322" y="529" width="1" height="17" fill="#4db381"/>
<rect x="327" y="529" width="1" height="5" fill="#4db381"/>
<rect x="332" y="528" width="1" height="2" fill="#e8465a"/>
<rect x="337" y="522" width="1" height="8" fill="#e8465a"/>
<rect x="342" y="528" width="1" height="2" fill="#e8465a"/>
<rect x="347" y="529" width="1" height="3" fill="#4db381"/>
<rect x="352" y="529" width="1" height="5" fill="#4db381"/>
<rect x="357" y="529" width="1" height="6" fill="#4db381"/>
<rect x="362" y="529" width="1" height="9" fill="#4db381"/>
<rect x="367" y="529" width="1" height="6" fill="#4db381"/>
<rect x="372" y="529" width="1" height="7" fill="#4db381"/>
<rect x="377" y="529" width="1" height="14" fill="#4db381"/>
<rect x="382" y="529" width="1" height="14" fill="#4db381"/>
<rect x="387" y="529" width="1" height="5" fill="#4db381"/>
<rect x="392" y="528" width="1" height="2" fill="#e8465a"/>
<rect x="397" y="526" width="1" height="4" fill="#e8465a"/>
<rect x="402" y="526" width="1" height="4" fill="#e8465a"/>
<rect x="407" y="516" width="1" height="14" fill="#e8465a"/>
<rect x="412" y="503" width="1" height="27" fill="#e8465a"/>
<rect x="417" y="498" width="1" height="32" fill="#e8465a"/>
<rect x="422" y="505" width="1" height="25" fill="#e8465a"/>
<rect x="427" y="517" width="1" height="13" fill="#e8465a"/>
<rect x="432" y="529" width="1" height="4" fill="#4db381"/>
<rect x="437" y="529" width="1" height="11" fill="#4db381"/>
<rect x="442" y="529" width="1" height="13" fill="#4db381"/>
<rect x="447" y="520" width="1" height="10" fill="#e8465a"/>
<rect x="452" y="493" width="1" height="37" fill="#e8465a"/>
<rect x="457" y="473" width="1" height="57" fill="#e8465a"/>
<rect x="462" y="460" width="1" height="70" fill="#e8465a"/>
<rect x="467" y="471" width="1" height="59" fill="#e8465a"/>
<rect x="472" y="473" width="1" height="57" fill="#e8465a"/>
<rect x="477" y="482" width="1" height="48" fill="#e8465a"/>
<rect x="482" y="498" width="1" height="32" fill="#e8465a"/>
<rect x="487" y="515" width="1" height="15" fill="#e8465a"/>
<rect x="492" y="527" width="1" height="3" fill="#e8465a"/>
<rect x="497" y="529" width="1" height="6" fill="#4db381"/>
<rect x="502" y="529" width="1" height="1" fill="#4db381"/>
<rect x="507" y="527" width="1" height="3" fill="#e8465a"/>
<rect x="512" y="522" width="1" height="8" fill="#e8465a"/>
<rect x="517" y="518" width="1" height="12" fill="#e8465a"/>
<rect x="522" y="517" width="1" height="13" fill="#e8465a"/>
<rect x="527" y="524" width="1" height="6" fill="#e8465a"/>
<rect x="532" y="525" width="1" height="5" fill="#e8465a"/>
<rect x="537" y="516" width="1" height="14" fill="#e8465a"/>
<rect x="542" y="512" width="1" height="18" fill="#e8465a"/>
<rect x="547" y="511" width="1" height="19" fill="#e8465a"/>
<rect x="552" y="517" width="1" height="13" fill="#e8465a"/>
<rect x="557" y="519" width="1" height="11" fill="#e8465a"/>
<rect x="562" y="529" width="1" height="2" fill="#4db381"/>
<rect x="567" y="529" width="1" height="8" fill="#4db381"/>
<rect x="572" y="529" width="1" height="7" fill="#4db381"/>
<rect x="577" y="529" width="1" height="7" fill="#4db381"/>
<rect x="582" y="529" width="1" height="2" fill="#4db381"/>
<rect x="587" y="529" width="1" height="3" fill="#4db381"/>
<rect x="592" y="529" width="1" height="5" fill="#4db381"/>
<rect x="597" y="529" width="1" height="1" fill="#e8465a"/>
<rect x="602" y="526" width="1" height="4" fill="#e8465a"/>
<rect x="607" y="512" width="1" height="18" fill="#e8465a"/>
<rect x="612" y="502" width="1" height="28" fill="#e8465a"/>
<rect x="617" y="508" width="1" height="22" fill="#e8465a"/>
<rect x="622" y="510" width="1" height="20" fill="#e8465a"/>
<rect x="627" y="521" width="1" height="9" fill="#e8465a"/>
<rect x="632" y="529" width="1" height="1" fill="#e8465a"/>
</g>
<g font-size="12">
<text x="91" y="432" fill="#111">MACD(26,12,9)</text>
<text x="181" y="432" fill="#2f86f6">DIFF:1.256</text>
<text x="249" y="432" fill="#3fbf7f">DEA:1.253</text>
<text x="315" y="432" fill="#2aa5e0">MACD:0.005</text>
<text x="91" y="571" fill="#111">RSI(14,14,14)</text>
<text x="170" y="571" fill="#2f86f6">RSI1:61.298</text>
<text x="246" y="571" fill="#3fbf7f">RSI2:61.298</text>
<text x="321" y="571" fill="#2aa5e0">RSI3:61.298</text>
</g>
<rect x="660.5" y="100.5" width="70" height="17" fill="#fff" stroke="#ff7f14" stroke-width="1"/>
<text x="663.5" y="113" font-size="12" fill="#ff7f14">156.083</text>
<path d="M719.5 96 L724 92 L728.5 96 Z M719.5 100.5 L724 96.5 L728.5 100.5 Z" fill="#ff7f14"/>
<text x="91" y="13" font-size="12" fill="#000" style="font-family:'Liberation Sans','Noto Sans CJK SC',sans-serif">美元日元</text>
<text x="139" y="13.5" font-size="12" fill="#ff7f14" style="font-family:'Liberation Sans','Noto Sans CJK SC',sans-serif">【日线】</text>
<g fill="none" stroke="#ff7f14" stroke-width="1"><circle cx="191.5" cy="10.7" r="4.2"/><path d="M187.3 10.7H195.7M191.5 6.5V14.9"/></g>
<g font-size="12" fill="#111" text-anchor="middle" style="font-family:'Liberation Sans','Noto Sans CJK SC',sans-serif">
<text x="8.6" y="16">分</text>
<text x="8.6" y="30">时</text>
<text x="8.6" y="44">图</text>
</g>
<text x="9.5" y="65.5" font-size="11" fill="#fff" text-anchor="middle" style="font-family:'Liberation Serif',serif">K</text>
<g font-size="12" fill="#fff" text-anchor="middle" style="font-family:'Liberation Sans','Noto Sans CJK SC',sans-serif">
<text x="8.6" y="80">线</text>
<text x="8.6" y="94">图</text>
</g>
<g font-size="12" fill="#111" text-anchor="middle" style="font-family:'Liberation Sans','Noto Sans CJK SC',sans-serif">
<text x="8.6" y="114.3">闪</text>
<text x="8.6" y="128.3">电</text>
<text x="8.6" y="142.3">图</text>
<text x="8.6" y="167.3">合</text>
<text x="8.6" y="181">约</text>
<text x="8.6" y="195">资</text>
<text x="8.6" y="208.7">料</text>
</g>
<text x="33.5" y="694.5" font-size="13" font-weight="bold" fill="#ff7400" style="font-family:'Liberation Sans','Noto Sans CJK SC',sans-serif">日线</text>
<path d="M63.3 693 L67.8 684.8 L72.3 693 Z" fill="#ff7400"/>
<g shape-rendering="crispEdges">
<rect x="597.5" y="0.5" width="13" height="13" fill="#fff" stroke="#1273cb"/>
<g fill="#1273cb"><rect x="599" y="6" width="3" height="2"/><rect x="603" y="6" width="2" height="2"/><rect x="606" y="6" width="3" height="2"/><rect x="603" y="2" width="2" height="3"/><rect x="603" y="9" width="2" height="3"/></g>
<rect x="613.5" y="0.5" width="13" height="13" fill="#fff" stroke="#1273cb"/>
<g fill="#1273cb"><rect x="616" y="3" width="1" height="9"/><rect x="615" y="10" width="10" height="1"/><rect x="619" y="3" width="1" height="6"/></g>
</g>
<path d="M614.7 4 L616.5 2 L618.3 4 Z M614.7 10 L616.5 12.2 L618.3 10Z M623.5 9 L625.5 10.5 L623.5 12 Z M619.9 5.6 L623.2 2.9 V8.3 Z" fill="#1273cb"/>
<rect x="629" y="0" width="14" height="14" fill="#1273cb" shape-rendering="crispEdges"/>
<g fill="#fff" shape-rendering="crispEdges"><rect x="632" y="3" width="1" height="9"/><rect x="631" y="10" width="10" height="1"/></g>
<path d="M630.7 4 L632.5 2 L634.3 4 Z M639.3 8.9 L641.3 10.5 L639.3 12.1 Z" fill="#fff"/>
<path d="M635 3 L636.2 3 L640.3 6.4 L636.2 9.8 L635 9.8 Z" fill="#fff" fill-opacity="0.9"/>
<rect x="645.5" y="0.5" width="13" height="13" fill="#fff" stroke="#1273cb" shape-rendering="crispEdges"/>
<rect x="647.5" y="2.5" width="3" height="9" fill="#fff" stroke="#1273cb" shape-rendering="crispEdges"/>
<rect x="649" y="6" width="5" height="2" fill="#1273cb" shape-rendering="crispEdges"/>
<path d="M653 3.8 L656.8 7 L653 10.2 Z" fill="#1273cb"/>
<path d="M27 558h1v1h-1zM27 559h1v1h-1zM27 570h1v1h-1zM27 571h1v1h-1zM21 564h1v1h-1zM22 564h1v1h-1zM33 564h1v1h-1zM34 564h1v1h-1zM22 559h1v1h-1zM23 560h1v1h-1zM33 559h1v1h-1zM32 560h1v1h-1zM23 569h1v1h-1zM22 570h1v1h-1zM32 569h1v1h-1zM33 570h1v1h-1zM27 563h1v1h-1zM28 563h1v1h-1zM27 566h1v1h-1zM28 566h1v1h-1zM26 564h1v1h-1zM26 565h1v1h-1zM27 564h1v1h-1zM27 565h1v1h-1zM28 564h1v1h-1zM28 565h1v1h-1zM29 564h1v1h-1zM29 565h1v1h-1z" fill="#f00" shape-rendering="crispEdges"/>
<path d="M26 561h1v1h-1zM27 561h1v1h-1zM28 561h1v1h-1zM29 561h1v1h-1zM26 568h1v1h-1zM27 568h1v1h-1zM28 568h1v1h-1zM29 568h1v1h-1zM24 563h1v1h-1zM24 564h1v1h-1zM24 565h1v1h-1zM24 566h1v1h-1zM31 563h1v1h-1zM31 564h1v1h-1zM31 565h1v1h-1zM31 566h1v1h-1zM25 562h1v1h-1zM30 562h1v1h-1zM25 567h1v1h-1zM30 567h1v1h-1z" fill="#000" shape-rendering="crispEdges"/>
<text x="597.4 618.2 640.6 660.2 678.6" y="671.6" font-size="31" fill="#9c7d5e" opacity="0.9" transform="translate(1,1)" filter="url(#wb)">FX678</text>
<text x="597.4 618.2 640.6 660.2 678.6" y="671.6" font-size="31" fill="#dbe8f7" stroke="#dbe8f7" stroke-width="0.2">FX678</text>
</svg>
</body></html>
